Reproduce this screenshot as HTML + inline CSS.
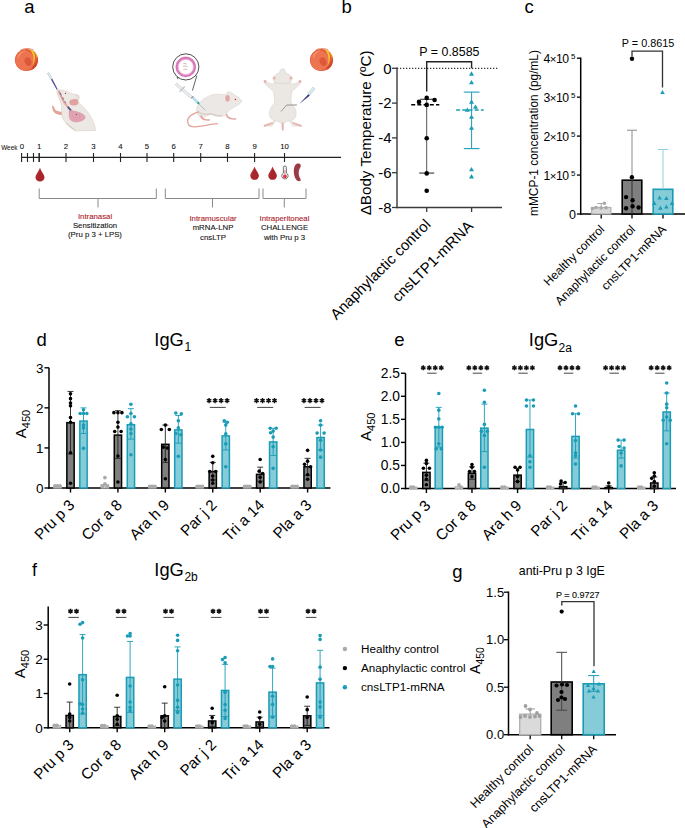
<!DOCTYPE html>
<html><head><meta charset="utf-8"><style>
html,body{margin:0;padding:0;background:#fff;width:685px;height:828px;overflow:hidden}
svg{display:block;font-family:"Liberation Sans", sans-serif}
</style></head><body>
<svg width="685" height="828" viewBox="0 0 685 828">
<rect width="685" height="828" fill="#fff"/>
<text x="24.30" y="13.00" font-size="18.5" text-anchor="start" fill="#000" >a</text>
<text x="341.50" y="12.70" font-size="18.5" text-anchor="start" fill="#000" >b</text>
<text x="524.50" y="12.70" font-size="18.5" text-anchor="start" fill="#000" >c</text>
<text x="36.50" y="346.40" font-size="18.5" text-anchor="start" fill="#000" >d</text>
<text x="394.20" y="346.40" font-size="18.5" text-anchor="start" fill="#000" >e</text>
<text x="32.00" y="575.80" font-size="18" text-anchor="start" fill="#000" >f</text>
<text x="452.30" y="577.70" font-size="18.5" text-anchor="start" fill="#000" >g</text>
<line x1="21.60" y1="157.30" x2="341.00" y2="157.30" stroke="#222" stroke-width="1.2" />
<line x1="21.60" y1="153.00" x2="21.60" y2="162.00" stroke="#222" stroke-width="1.1" />
<line x1="27.50" y1="153.00" x2="27.50" y2="162.00" stroke="#222" stroke-width="1.1" />
<line x1="33.50" y1="153.00" x2="33.50" y2="162.00" stroke="#222" stroke-width="1.1" />
<line x1="39.20" y1="153.00" x2="39.20" y2="162.00" stroke="#222" stroke-width="1.1" />
<line x1="39.20" y1="153.00" x2="39.20" y2="162.00" stroke="#222" stroke-width="1.1" />
<text x="39.20" y="149.30" font-size="7.8" text-anchor="middle" fill="#111" stroke="#111" stroke-width="0.08">1</text>
<line x1="66.00" y1="153.00" x2="66.00" y2="162.00" stroke="#222" stroke-width="1.1" />
<text x="66.00" y="149.30" font-size="7.8" text-anchor="middle" fill="#111" stroke="#111" stroke-width="0.08">2</text>
<line x1="93.50" y1="153.00" x2="93.50" y2="162.00" stroke="#222" stroke-width="1.1" />
<text x="93.50" y="149.30" font-size="7.8" text-anchor="middle" fill="#111" stroke="#111" stroke-width="0.08">3</text>
<line x1="120.50" y1="153.00" x2="120.50" y2="162.00" stroke="#222" stroke-width="1.1" />
<text x="120.50" y="149.30" font-size="7.8" text-anchor="middle" fill="#111" stroke="#111" stroke-width="0.08">4</text>
<line x1="147.00" y1="153.00" x2="147.00" y2="162.00" stroke="#222" stroke-width="1.1" />
<text x="147.00" y="149.30" font-size="7.8" text-anchor="middle" fill="#111" stroke="#111" stroke-width="0.08">5</text>
<line x1="173.70" y1="153.00" x2="173.70" y2="162.00" stroke="#222" stroke-width="1.1" />
<text x="173.70" y="149.30" font-size="7.8" text-anchor="middle" fill="#111" stroke="#111" stroke-width="0.08">6</text>
<line x1="200.70" y1="153.00" x2="200.70" y2="162.00" stroke="#222" stroke-width="1.1" />
<text x="200.70" y="149.30" font-size="7.8" text-anchor="middle" fill="#111" stroke="#111" stroke-width="0.08">7</text>
<line x1="227.50" y1="153.00" x2="227.50" y2="162.00" stroke="#222" stroke-width="1.1" />
<text x="227.50" y="149.30" font-size="7.8" text-anchor="middle" fill="#111" stroke="#111" stroke-width="0.08">8</text>
<line x1="254.60" y1="153.00" x2="254.60" y2="162.00" stroke="#222" stroke-width="1.1" />
<text x="254.60" y="149.30" font-size="7.8" text-anchor="middle" fill="#111" stroke="#111" stroke-width="0.08">9</text>
<line x1="284.50" y1="153.00" x2="284.50" y2="162.00" stroke="#222" stroke-width="1.1" />
<text x="284.50" y="149.30" font-size="7.8" text-anchor="middle" fill="#111" stroke="#111" stroke-width="0.08">10</text>
<text x="21.80" y="149.30" font-size="7.8" text-anchor="middle" fill="#111" stroke="#111" stroke-width="0.08">0</text>
<text x="1.20" y="149.80" font-size="6.4" text-anchor="start" fill="#111" stroke="#111" stroke-width="0.05">Week</text>
<path d="M39.2 188.5V198.5H156.3V188.5M98 198.5V207.5" fill="none" stroke="#8a8a8a" stroke-width="1"/>
<path d="M165.3 188.5V198.5H259V188.5M212.5 198.5V207.5" fill="none" stroke="#8a8a8a" stroke-width="1"/>
<path d="M263 188.5V198.5H306V188.5M284.3 198.5V207.5" fill="none" stroke="#8a8a8a" stroke-width="1"/>
<text x="95.00" y="218.60" font-size="7.8" text-anchor="middle" fill="#ab1b28" stroke="#ab1b28" stroke-width="0.1">Intranasal</text>
<text x="95.00" y="227.90" font-size="7.8" text-anchor="middle" fill="#111" stroke="#111" stroke-width="0.1">Sensitization</text>
<text x="95.00" y="237.20" font-size="7.8" text-anchor="middle" fill="#111" stroke="#111" stroke-width="0.1">(Pru p 3 + LPS)</text>
<text x="213.00" y="221.00" font-size="7.8" text-anchor="middle" fill="#ab1b28" stroke="#ab1b28" stroke-width="0.1">Intramuscular</text>
<text x="213.00" y="230.30" font-size="7.8" text-anchor="middle" fill="#111" stroke="#111" stroke-width="0.1">mRNA-LNP</text>
<text x="213.00" y="239.60" font-size="7.8" text-anchor="middle" fill="#111" stroke="#111" stroke-width="0.1">cnsLTP</text>
<text x="284.50" y="221.00" font-size="7.8" text-anchor="middle" fill="#ab1b28" stroke="#ab1b28" stroke-width="0.1">Intraperitoneal</text>
<text x="284.50" y="230.30" font-size="7.8" text-anchor="middle" fill="#111" stroke="#111" stroke-width="0.1">CHALLENGE</text>
<text x="284.50" y="239.60" font-size="7.8" text-anchor="middle" fill="#111" stroke="#111" stroke-width="0.1">with Pru p 3</text>
<g transform="translate(26.5 60)">
<ellipse cx="0" cy="0" rx="11.6" ry="11.1" fill="#e35a36"/>
<ellipse cx="-1.8" cy="0.6" rx="9.4" ry="10" fill="#ec7450"/>
<path d="M-8.5 -3 C-8 -7.5 -4 -10 0 -9.5 C-4.5 -8.5 -7 -5.5 -7.8 -1 Z" fill="#f29a78" opacity="0.9"/>
<path d="M-1 -2 C2 -4 5 -1 5 3 C5 6 2 7 0 5 C-2 3 -3 0 -1 -2 Z" fill="#dc5432" opacity="0.85"/>
<path d="M1.5 -11 C4 -10.5 6.2 -7 6.8 -3 C7.3 0.5 6.8 4 5.5 6.5 C7.6 4 8.8 0 8.5 -4 C8.2 -8 6 -10.5 1.5 -11 Z" fill="#f7c62e"/>
<path d="M7.5 -9.2 C9.8 -7 10.8 -4 10.8 -0.5 C9.8 -3 9 -6.5 7.5 -9.2Z" fill="#f3ad2c"/>
<path d="M5.5 7.5 C9 5 11 1 11.4 -3 C11.9 2.5 10 7.5 6 9.8 Z" fill="#c8432a" opacity="0.85"/>
<path d="M-6 -10 C-2 -12 3 -12 7 -10" fill="none" stroke="#d8502c" stroke-width="0.6"/>
</g>
<g transform="translate(321.5 60)">
<ellipse cx="0" cy="0" rx="11.6" ry="11.1" fill="#e35a36"/>
<ellipse cx="-1.8" cy="0.6" rx="9.4" ry="10" fill="#ec7450"/>
<path d="M-8.5 -3 C-8 -7.5 -4 -10 0 -9.5 C-4.5 -8.5 -7 -5.5 -7.8 -1 Z" fill="#f29a78" opacity="0.9"/>
<path d="M-1 -2 C2 -4 5 -1 5 3 C5 6 2 7 0 5 C-2 3 -3 0 -1 -2 Z" fill="#dc5432" opacity="0.85"/>
<path d="M1.5 -11 C4 -10.5 6.2 -7 6.8 -3 C7.3 0.5 6.8 4 5.5 6.5 C7.6 4 8.8 0 8.5 -4 C8.2 -8 6 -10.5 1.5 -11 Z" fill="#f7c62e"/>
<path d="M7.5 -9.2 C9.8 -7 10.8 -4 10.8 -0.5 C9.8 -3 9 -6.5 7.5 -9.2Z" fill="#f3ad2c"/>
<path d="M5.5 7.5 C9 5 11 1 11.4 -3 C11.9 2.5 10 7.5 6 9.8 Z" fill="#c8432a" opacity="0.85"/>
<path d="M-6 -10 C-2 -12 3 -12 7 -10" fill="none" stroke="#d8502c" stroke-width="0.6"/>
</g>
<g>
<path d="M47.3 73.4 L48.9 72.6 L52.3 79 L51 79.7 Z" fill="#e3eff3" stroke="#9fb9c2" stroke-width="0.5"/>
<path d="M51 79.5 L52.3 78.8 L57.8 89.4 L56.9 89.9 Z" fill="#4a4d9a"/>
<path d="M57 89.8 C61 89.5 66 90.8 70.5 93 C73 94 75 94.5 76.5 94.6 C78.5 94.8 79.2 97 78.2 99.5 C78.3 101 78.8 102 79.2 103 C83.5 107 87.5 111.5 90 115.5 C93 120 94.8 125 95.6 130.5 L75.5 130.8 C73 128.5 70 127 66.5 123.5 C63.5 120.5 61.8 117.5 61.6 114 C61.2 111.5 61.3 109 61.9 106 C61 103 59.5 100 58.3 96.5 C57.6 94.5 56.8 92 57 89.8 Z" fill="#ece9e5" stroke="#d3cabf" stroke-width="0.55"/>
<path d="M66 123 C69 126 72.5 128.5 75.5 130.8" fill="none" stroke="#d9d0c4" stroke-width="1.2"/>
<path d="M75.5 95 C77.5 94.3 79.5 95.5 79.3 97.8 C79 99.5 77.5 100 76.2 99.3" fill="#e6e1dc" stroke="#cfc6bc" stroke-width="0.5"/>
<path d="M69.3 101.5 C70 99.2 73.5 98.5 76.5 99.2 C78.6 100 78.8 103 77.5 104.8 C75.5 106 71.5 105.8 70 104.5 C69.3 103.5 69.1 102.5 69.3 101.5 Z" fill="#e2a3a0"/>
<path d="M58.5 90.8 C60.5 95 62.5 99.5 65 103.5 C67 106.5 69.5 109 72.2 111.5" fill="none" stroke="#e59f95" stroke-width="2"/>
<path d="M63 102 C66 104.5 69 107.5 71.5 110.5" fill="none" stroke="#eab1a8" stroke-width="1.2"/>
<path d="M60 92.5 L61.3 95.2 M62.6 97.5 L63.6 99.5 M64.8 101.4 L65.8 103.2" stroke="#5a5fa8" stroke-width="0.9"/>
<path d="M67.8 106.8 L70.8 110.5" stroke="#3e4c98" stroke-width="1.6"/>
<path d="M69.2 111 C72 110.4 76.5 111.3 80.5 113 C83.5 114.3 85.5 116 85.2 117.8 C84.5 120 81 121.8 76.5 122 C73 122.1 70.5 120.8 69.7 118.5 C69 116 68.8 113 69.2 111 Z" fill="#e2a2b2" stroke="#d08a9c" stroke-width="0.4"/>
<path d="M72 112.5 L74 119 M75.5 112 L77 120 M79 113 L80 120" stroke="#d593a5" stroke-width="0.4"/>
<circle cx="76.5" cy="114.5" r="0.6" fill="#4a4d9a"/>
<path d="M52.3 105 C53.8 105.7 54.5 107.5 55 109.5 C56.5 111 58.5 111.2 61.5 112 L62 115 C59.5 115.3 56 114.5 54 112.3 C52.5 110.5 51.8 107.5 52.3 105 Z" fill="#e4a49a"/>
<circle cx="65.5" cy="93.4" r="0.65" fill="#a83232"/>
</g>
<g>
<circle cx="185.8" cy="66.9" r="13.1" fill="#fff" stroke="#3a3a3a" stroke-width="0.9"/>
<circle cx="185.8" cy="66.9" r="8.9" fill="none" stroke="#da7cbc" stroke-width="2.3"/>
<circle cx="185.8" cy="66.9" r="9.9" fill="none" stroke="#c23c94" stroke-width="0.6" stroke-dasharray="0.8 0.6"/>
<circle cx="185.8" cy="66.9" r="7.5" fill="none" stroke="#e6a7cf" stroke-width="0.6"/>
<path d="M183.2 63.8 q1.5 -0.8 3.5 0.3 M183 66.5 q2 -1 4.5 0.2 M183.3 69.5 q2 -0.9 4 0" fill="none" stroke="#b87b74" stroke-width="0.55"/>
<path d="M177 77 L178 79.2" stroke="#3a3a3a" stroke-width="0.8"/>
<path d="M196.8 75.7 L192.4 90.6" stroke="#3a3a3a" stroke-width="0.8"/>
<path d="M196.4 108.6 C197 105.5 199.5 102.5 203 99.5 C207 96.5 211.5 94.5 216 94.2 C219 94 222 94.5 225 94.8 C226.5 93 227.5 91.8 228.5 91.7 C230 91.5 231.2 92.2 231.6 93 C232.5 93.5 233.5 94 234.2 94.7 C237 96 240 98.5 242 100.8 C241.5 102.5 239.5 104 237.6 105.1 C234.5 107 231.5 108.5 228.8 110.4 C228 112 227 113.5 226 114.8 C224 116 221.5 116.6 219.5 116.5 C216 116 213.5 115 211.3 113.9 C208 115 205 116.5 202.5 118.3 C200 117.5 198 115.5 197.3 113 C196.6 111.5 196.3 110 196.4 108.6 Z" fill="#ebe8e5" stroke="#d6cec5" stroke-width="0.5"/>
<path d="M197.5 111 C200 114 205 114.8 211.3 113.9 C215 115.5 219 116 222 115.5" fill="none" stroke="#d9d2ca" stroke-width="1.6"/>
<path d="M225.3 98 C225.3 95.5 227 94.5 228.5 95.2 C230 96 230 99.5 229 101.2 C228 102.2 226 101.5 225.5 100" fill="#e2a6a6"/>
<circle cx="235.4" cy="99.5" r="0.7" fill="#b52020"/>
<path d="M198.1 112.2 C195 113.2 191.5 114.5 189.3 117 C187.3 119.5 187.3 123 189 125.3 C191 127.5 196 127 201 126.2 C206 125.4 212 124 217.4 123.6" fill="none" stroke="#e3a49d" stroke-width="1.35" stroke-linecap="round"/>
<path d="M201 116 C201.5 118 203 119.5 205.5 119.8 L209.3 120" fill="none" stroke="#e3a49d" stroke-width="1.6" stroke-linecap="round"/>
<path d="M226.5 114.5 C227 116.5 229 118.5 232 118.8 L235.5 119" fill="none" stroke="#e3a49d" stroke-width="1.5" stroke-linecap="round"/>
<path d="M175.3 84.8 L176.8 83.2 L192.8 97 L191.2 98.7 Z" fill="#f2f3f4" stroke="#a9b0b4" stroke-width="0.55"/>
<path d="M179.5 91.8 L184.8 86.5" stroke="#b9c0c4" stroke-width="1.1"/>
<path d="M191.6 97.9 L193.2 96.3" stroke="#333" stroke-width="0.9"/>
<path d="M192.1 98.4 L193.7 96.8 L198.2 101.6 L196.6 103.2 Z" fill="#bfe3f2" stroke="#8fbfd3" stroke-width="0.4"/>
<path d="M196.8 103 L198.3 101.5 L199.8 103.3 L198.5 104.6 Z" fill="#2e9e8a"/>
<path d="M199 104 L205.6 110.4" stroke="#6d8a90" stroke-width="0.45"/>
</g>
<g>
<path d="M282.6 68.6 C284.3 68.6 285.3 70.5 285.6 72.8 C289 73.8 291.8 76 291.8 79.5 C291 82 290.5 83 289.5 83.5 C293 84.5 296.5 83.5 299 81.5 C300.5 82.5 300.5 83.5 299.5 84.5 C297 87 294.5 89 292 91 C291 96 290.5 101 291.5 104 C295 107 296.5 111 296 115.5 C295 118.5 293 120 291 120.5 L293.5 123.5 L300.5 124.5 L301 126 L293 126 L289.5 121 C287 121 285 122 283.5 124 L283.5 130 L282 130 L281.5 124 C280 122 278 121 275.5 121 L272 126 L264.5 126 L265 124.5 L272 123.5 L274.5 120.5 C272 120 270.5 118.5 269.5 115.5 C269 111 270.5 107 274 104 C275 101 274.5 96 273.5 91 C271 89 268 87 265.5 84.5 C264.5 83.5 264.5 82.5 266 81.5 C268.5 83.5 272 84.5 275.5 83.5 C274.5 83 274 82 273.5 79.5 C273.4 76 276.2 73.8 279.6 72.8 C279.9 70.5 280.9 68.6 282.6 68.6 Z" fill="#ebe8e4" stroke="#d9d1ca" stroke-width="0.6"/>
<circle cx="274.2" cy="78" r="1.6" fill="#e7b5b5"/>
<circle cx="291" cy="78" r="1.6" fill="#e7b5b5"/>
<circle cx="265" cy="81.5" r="1.4" fill="#e9aeae"/>
<circle cx="300" cy="81.5" r="1.4" fill="#e9aeae"/>
<path d="M274.5 82 C277 84 288 84 290.5 82" fill="none" stroke="#ddd4cc" stroke-width="0.8"/>
<path d="M264.5 126 L272 123 M301 126 L293.5 123" stroke="#eab0aa" stroke-width="1.8" stroke-linecap="round"/>
<path d="M282.7 123 L282.7 129.8" stroke="#eab0aa" stroke-width="1.4" stroke-linecap="round"/>
<path d="M281 111.5 L286.7 105 L296.9 105" fill="none" stroke="#555" stroke-width="0.55"/>
<path d="M286.7 105 L296.9 105" stroke="#bbb" stroke-width="0.9"/>
<path d="M299.3 104 L308.5 94 L310 95.5 Z" fill="#3c3c90"/>
<path d="M308 93.6 L313 87 L315 89 L309.8 95.3 Z" fill="#d8ecf0" stroke="#a6c6cf" stroke-width="0.5"/>
</g>
<path d="M40 167.7 C41.2 171.81 44.5 174.55 44.5 177.29 A4.5 4.2749999999999995 0 0 1 35.5 177.29 C35.5 174.55 38.8 171.81 40 167.7 Z" fill="#a8252d"/>
<path d="M36.7 177.016 C36.7 174.55 39 171.81 40 168.7" fill="none" stroke="#b94048" stroke-width="1" opacity="0.6"/>
<path d="M254.6 166.6 C255.79999999999998 170.53 258.9 173.14999999999998 258.9 175.76999999999998 A4.3 4.085 0 0 1 250.29999999999998 175.76999999999998 C250.29999999999998 173.14999999999998 253.4 170.53 254.6 166.6 Z" fill="#a8252d"/>
<path d="M251.49999999999997 175.50799999999998 C251.49999999999997 173.14999999999998 253.6 170.53 254.6 167.6" fill="none" stroke="#b94048" stroke-width="1" opacity="0.6"/>
<path d="M272.6 166.6 C273.8 170.53 276.90000000000003 173.14999999999998 276.90000000000003 175.76999999999998 A4.3 4.085 0 0 1 268.3 175.76999999999998 C268.3 173.14999999999998 271.40000000000003 170.53 272.6 166.6 Z" fill="#a8252d"/>
<path d="M269.5 175.50799999999998 C269.5 173.14999999999998 271.6 170.53 272.6 167.6" fill="none" stroke="#b94048" stroke-width="1" opacity="0.6"/>
<path d="M283.4 173 V167.5 a1.5 1.5 0 0 1 3 0 V173 a3.2 3.2 0 1 1 -3 0 Z" fill="#f2f2f2" stroke="#555" stroke-width="0.8"/>
<circle cx="284.9" cy="176.4" r="1.9" fill="#e03a4a"/>
<path d="M284.9 170 V175" stroke="#e88090" stroke-width="1"/>
<path d="M297.5 163.6 C301 163 301.5 166 300 168 C298 171 298.5 176 300.5 179 C301.5 181.5 298.5 182 296.5 180 C293.5 176.5 293 169 295 165.5 C295.6 164.5 296.5 163.8 297.5 163.6 Z" fill="#9a3b45"/>
<line x1="397.00" y1="68.30" x2="499.00" y2="68.30" stroke="#000" stroke-width="1" stroke-dasharray="1.3 1.7"/>
<line x1="397.00" y1="67.60" x2="397.00" y2="208.20" stroke="#3a3a3a" stroke-width="1.4" />
<line x1="396.30" y1="207.50" x2="502.00" y2="207.50" stroke="#3a3a3a" stroke-width="1.4" />
<line x1="392.00" y1="68.30" x2="397.00" y2="68.30" stroke="#3a3a3a" stroke-width="1.3" />
<text x="391.50" y="73.60" font-size="15" text-anchor="end" fill="#000" >0</text>
<line x1="392.00" y1="103.10" x2="397.00" y2="103.10" stroke="#3a3a3a" stroke-width="1.3" />
<text x="391.50" y="108.40" font-size="15" text-anchor="end" fill="#000" >-2</text>
<line x1="392.00" y1="137.90" x2="397.00" y2="137.90" stroke="#3a3a3a" stroke-width="1.3" />
<text x="391.50" y="143.20" font-size="15" text-anchor="end" fill="#000" >-4</text>
<line x1="392.00" y1="172.70" x2="397.00" y2="172.70" stroke="#3a3a3a" stroke-width="1.3" />
<text x="391.50" y="178.00" font-size="15" text-anchor="end" fill="#000" >-6</text>
<line x1="392.00" y1="207.50" x2="397.00" y2="207.50" stroke="#3a3a3a" stroke-width="1.3" />
<text x="391.50" y="212.80" font-size="15" text-anchor="end" fill="#000" >-8</text>
<line x1="426.70" y1="207.50" x2="426.70" y2="212.00" stroke="#3a3a3a" stroke-width="1.3" />
<line x1="471.60" y1="207.50" x2="471.60" y2="212.00" stroke="#3a3a3a" stroke-width="1.3" />
<text transform="translate(371.3 132.9) rotate(-90)" font-size="15.2" text-anchor="middle">ΔBody Temperature (ºC)</text>
<text transform="translate(431.5 225.5) rotate(-45)" font-size="15" text-anchor="end">Anaphylactic control</text>
<text transform="translate(474 227) rotate(-45)" font-size="15" text-anchor="end">cnsLTP1-mRNA</text>
<line x1="426.70" y1="99.27" x2="426.70" y2="173.05" stroke="#555" stroke-width="1" />
<line x1="420.20" y1="99.27" x2="433.20" y2="99.27" stroke="#222" stroke-width="1" />
<line x1="419.20" y1="173.05" x2="434.20" y2="173.05" stroke="#222" stroke-width="1" />
<line x1="411.20" y1="104.84" x2="439.30" y2="104.84" stroke="#000" stroke-width="1.5" stroke-dasharray="4 2.2"/>
<circle cx="426.70" cy="97.90" r="2.3" fill="#000"/>
<circle cx="419.00" cy="101.90" r="2.3" fill="#000"/>
<circle cx="434.60" cy="100.00" r="2.3" fill="#000"/>
<circle cx="426.70" cy="104.90" r="2.3" fill="#000"/>
<circle cx="426.70" cy="138.30" r="2.3" fill="#000"/>
<circle cx="426.70" cy="173.40" r="2.3" fill="#000"/>
<circle cx="426.70" cy="190.70" r="2.3" fill="#000"/>
<line x1="471.60" y1="92.10" x2="471.60" y2="148.60" stroke="#1b9cb6" stroke-width="1" />
<line x1="463.80" y1="92.10" x2="479.50" y2="92.10" stroke="#1b9cb6" stroke-width="1.1" />
<line x1="463.80" y1="148.60" x2="479.50" y2="148.60" stroke="#1b9cb6" stroke-width="1.1" />
<line x1="456.10" y1="110.10" x2="483.70" y2="110.10" stroke="#1b9cb6" stroke-width="1.5" stroke-dasharray="4 2.2"/>
<path d="M471.50 71.29L474.00 75.64L469.00 75.64Z" fill="#1b9cb6"/>
<path d="M471.50 79.89L474.00 84.24L469.00 84.24Z" fill="#1b9cb6"/>
<path d="M471.50 99.29L474.00 103.64L469.00 103.64Z" fill="#1b9cb6"/>
<path d="M475.50 104.39L478.00 108.74L473.00 108.74Z" fill="#1b9cb6"/>
<path d="M467.30 107.49L469.80 111.84L464.80 111.84Z" fill="#1b9cb6"/>
<path d="M471.50 114.49L474.00 118.84L469.00 118.84Z" fill="#1b9cb6"/>
<path d="M471.50 125.49L474.00 129.84L469.00 129.84Z" fill="#1b9cb6"/>
<path d="M471.50 166.99L474.00 171.34L469.00 171.34Z" fill="#1b9cb6"/>
<path d="M471.50 174.09L474.00 178.44L469.00 178.44Z" fill="#1b9cb6"/>
<path d="M426.7 91.4V61.7H471.6V68.3" fill="none" stroke="#222" stroke-width="1.4"/>
<text x="449.40" y="56.20" font-size="12.4" text-anchor="middle" fill="#000" >P = 0.8585</text>
<line x1="580.70" y1="57.50" x2="580.70" y2="214.75" stroke="#000" stroke-width="1.5" />
<line x1="579.95" y1="214.00" x2="685.00" y2="214.00" stroke="#000" stroke-width="1.5" />
<line x1="576.90" y1="214.00" x2="580.70" y2="214.00" stroke="#000" stroke-width="1.3" />
<text x="576.00" y="218.50" font-size="12.5" text-anchor="end" fill="#000" >0</text>
<line x1="576.90" y1="175.05" x2="580.70" y2="175.05" stroke="#000" stroke-width="1.3" />
<text x="568.6" y="179.65" font-size="12.2" text-anchor="end" letter-spacing="-0.5">1<tspan font-size="11.5">×</tspan>10</text>
<text x="571.10" y="175.95" font-size="7.9" text-anchor="start" fill="#000" >5</text>
<line x1="576.90" y1="136.10" x2="580.70" y2="136.10" stroke="#000" stroke-width="1.3" />
<text x="568.6" y="140.70" font-size="12.2" text-anchor="end" letter-spacing="-0.5">2<tspan font-size="11.5">×</tspan>10</text>
<text x="571.10" y="137.00" font-size="7.9" text-anchor="start" fill="#000" >5</text>
<line x1="576.90" y1="97.15" x2="580.70" y2="97.15" stroke="#000" stroke-width="1.3" />
<text x="568.6" y="101.75" font-size="12.2" text-anchor="end" letter-spacing="-0.5">3<tspan font-size="11.5">×</tspan>10</text>
<text x="571.10" y="98.05" font-size="7.9" text-anchor="start" fill="#000" >5</text>
<line x1="576.90" y1="58.20" x2="580.70" y2="58.20" stroke="#000" stroke-width="1.3" />
<text x="568.6" y="62.80" font-size="12.2" text-anchor="end" letter-spacing="-0.5">4<tspan font-size="11.5">×</tspan>10</text>
<text x="571.10" y="59.10" font-size="7.9" text-anchor="start" fill="#000" >5</text>
<line x1="601.20" y1="214.00" x2="601.20" y2="218.50" stroke="#000" stroke-width="1.3" />
<line x1="632.00" y1="214.00" x2="632.00" y2="218.50" stroke="#000" stroke-width="1.3" />
<line x1="663.00" y1="214.00" x2="663.00" y2="218.50" stroke="#000" stroke-width="1.3" />
<rect x="591.55" y="207.50" width="19.30" height="6.50" fill="#d8d8d8" stroke="#b4b4b4" stroke-width="1.3"/>
<line x1="601.20" y1="203.50" x2="601.20" y2="208.50" stroke="#aaa" stroke-width="1" />
<line x1="597.20" y1="203.50" x2="605.20" y2="203.50" stroke="#aaa" stroke-width="1" />
<circle cx="604.40" cy="203.30" r="1.8" fill="#a8a8a8"/>
<circle cx="596.00" cy="207.50" r="1.8" fill="#a8a8a8"/>
<circle cx="601.00" cy="208.00" r="1.8" fill="#a8a8a8"/>
<circle cx="606.00" cy="207.80" r="1.8" fill="#a8a8a8"/>
<circle cx="592.50" cy="208.50" r="1.8" fill="#a8a8a8"/>
<rect x="622.20" y="180.20" width="19.60" height="33.80" fill="#7f7f7f" stroke="#000" stroke-width="1.6"/>
<line x1="632.00" y1="130.20" x2="632.00" y2="180.20" stroke="#8a8a8a" stroke-width="1" />
<line x1="632.00" y1="180.20" x2="632.00" y2="214.00" stroke="#333" stroke-width="1" />
<line x1="627.00" y1="130.20" x2="637.00" y2="130.20" stroke="#8a8a8a" stroke-width="1" />
<circle cx="632.00" cy="58.70" r="2.2" fill="#000"/>
<circle cx="631.90" cy="177.30" r="2.2" fill="#000"/>
<circle cx="626.10" cy="197.10" r="2.2" fill="#000"/>
<circle cx="632.60" cy="200.20" r="2.2" fill="#000"/>
<circle cx="626.10" cy="208.20" r="2.2" fill="#000"/>
<circle cx="632.60" cy="206.20" r="2.2" fill="#000"/>
<circle cx="638.60" cy="207.50" r="2.2" fill="#000"/>
<rect x="653.20" y="189.30" width="19.60" height="24.70" fill="#86ccd8" stroke="#1b9cb6" stroke-width="1.6"/>
<line x1="663.00" y1="149.50" x2="663.00" y2="189.30" stroke="#8fd0dc" stroke-width="1" />
<line x1="658.00" y1="149.50" x2="668.00" y2="149.50" stroke="#8fd0dc" stroke-width="1" />
<path d="M662.50 89.90L664.80 93.90L660.20 93.90Z" fill="#1b9cb6"/>
<path d="M659.60 195.40L661.90 199.40L657.30 199.40Z" fill="#1b9cb6"/>
<path d="M666.40 196.10L668.70 200.10L664.10 200.10Z" fill="#1b9cb6"/>
<path d="M654.30 200.90L656.60 204.90L652.00 204.90Z" fill="#1b9cb6"/>
<path d="M672.00 200.90L674.30 204.90L669.70 204.90Z" fill="#1b9cb6"/>
<path d="M660.40 205.80L662.70 209.80L658.10 209.80Z" fill="#1b9cb6"/>
<path d="M666.40 204.60L668.70 208.60L664.10 208.60Z" fill="#1b9cb6"/>
<path d="M632 56.5V51.2H662.5V87.5" fill="none" stroke="#333" stroke-width="1.3"/>
<text x="648.00" y="47.30" font-size="10.8" text-anchor="middle" fill="#000" >P = 0.8615</text>
<text transform="translate(537.8 133) rotate(-90)" font-size="11.9" text-anchor="middle">mMCP-1 concentration (pg/mL)</text>
<text transform="translate(605.20 230.00) rotate(-45)" font-size="12" text-anchor="end">Healthy control</text>
<text transform="translate(636.00 230.00) rotate(-45)" font-size="12" text-anchor="end">Anaphylactic control</text>
<text transform="translate(667.00 230.00) rotate(-45)" font-size="12" text-anchor="end">cnsLTP1-mRNA</text>
<line x1="49.00" y1="367.79" x2="49.00" y2="488.75" stroke="#000" stroke-width="1.5" />
<line x1="48.25" y1="488.00" x2="330.50" y2="488.00" stroke="#000" stroke-width="1.5" />
<line x1="44.50" y1="488.00" x2="49.00" y2="488.00" stroke="#000" stroke-width="1.4" />
<text x="43.50" y="492.86" font-size="13.5" text-anchor="end" fill="#000" >0</text>
<line x1="44.50" y1="447.93" x2="49.00" y2="447.93" stroke="#000" stroke-width="1.4" />
<text x="43.50" y="452.79" font-size="13.5" text-anchor="end" fill="#000" >1</text>
<line x1="44.50" y1="407.86" x2="49.00" y2="407.86" stroke="#000" stroke-width="1.4" />
<text x="43.50" y="412.72" font-size="13.5" text-anchor="end" fill="#000" >2</text>
<line x1="44.50" y1="367.79" x2="49.00" y2="367.79" stroke="#000" stroke-width="1.4" />
<text x="43.50" y="372.65" font-size="13.5" text-anchor="end" fill="#000" >3</text>
<line x1="70.50" y1="488.00" x2="70.50" y2="492.50" stroke="#000" stroke-width="1.4" />
<line x1="117.92" y1="488.00" x2="117.92" y2="492.50" stroke="#000" stroke-width="1.4" />
<line x1="165.34" y1="488.00" x2="165.34" y2="492.50" stroke="#000" stroke-width="1.4" />
<line x1="212.76" y1="488.00" x2="212.76" y2="492.50" stroke="#000" stroke-width="1.4" />
<line x1="260.18" y1="488.00" x2="260.18" y2="492.50" stroke="#000" stroke-width="1.4" />
<line x1="307.60" y1="488.00" x2="307.60" y2="492.50" stroke="#000" stroke-width="1.4" />
<rect x="53.85" y="486.00" width="7.30" height="2.00" fill="#d8d8d8" stroke="#b4b4b4" stroke-width="1.2"/>
<circle cx="57.50" cy="486.00" r="1.9" fill="#aaaaaa"/>
<circle cx="55.00" cy="486.00" r="1.9" fill="#aaaaaa"/>
<circle cx="60.00" cy="486.00" r="1.9" fill="#aaaaaa"/>
<rect x="66.85" y="422.69" width="7.30" height="65.31" fill="#7f7f7f" stroke="#000" stroke-width="1.5"/>
<line x1="70.50" y1="391.43" x2="70.50" y2="453.94" stroke="#222" stroke-width="0.9" />
<line x1="67.50" y1="391.43" x2="73.50" y2="391.43" stroke="#222" stroke-width="0.9" />
<line x1="67.50" y1="453.94" x2="73.50" y2="453.94" stroke="#222" stroke-width="0.9" />
<circle cx="70.50" cy="393.84" r="1.8" fill="#000"/>
<circle cx="70.50" cy="398.64" r="1.8" fill="#000"/>
<circle cx="70.50" cy="403.05" r="1.8" fill="#000"/>
<circle cx="70.50" cy="405.86" r="1.8" fill="#000"/>
<circle cx="70.50" cy="417.48" r="1.8" fill="#000"/>
<circle cx="70.50" cy="422.29" r="1.8" fill="#000"/>
<circle cx="70.50" cy="452.74" r="1.8" fill="#000"/>
<circle cx="70.50" cy="483.19" r="1.8" fill="#000"/>
<rect x="79.85" y="421.08" width="7.30" height="66.92" fill="#86ccd8" stroke="#1b9cb6" stroke-width="1.5"/>
<line x1="83.50" y1="407.86" x2="83.50" y2="433.50" stroke="#1b9cb6" stroke-width="0.9" />
<line x1="80.50" y1="407.86" x2="86.50" y2="407.86" stroke="#1b9cb6" stroke-width="0.9" />
<line x1="80.50" y1="433.50" x2="86.50" y2="433.50" stroke="#1b9cb6" stroke-width="0.9" />
<circle cx="83.50" cy="409.86" r="1.8" fill="#1b9cb6"/>
<circle cx="80.20" cy="413.47" r="1.8" fill="#1b9cb6"/>
<circle cx="83.50" cy="413.47" r="1.8" fill="#1b9cb6"/>
<circle cx="86.80" cy="413.47" r="1.8" fill="#1b9cb6"/>
<circle cx="83.50" cy="425.09" r="1.8" fill="#1b9cb6"/>
<circle cx="83.50" cy="427.89" r="1.8" fill="#1b9cb6"/>
<circle cx="83.50" cy="448.33" r="1.8" fill="#1b9cb6"/>
<rect x="101.27" y="484.79" width="7.30" height="3.21" fill="#d8d8d8" stroke="#b4b4b4" stroke-width="1.2"/>
<circle cx="104.92" cy="477.58" r="1.9" fill="#aaaaaa"/>
<circle cx="104.92" cy="483.99" r="1.9" fill="#aaaaaa"/>
<circle cx="102.42" cy="486.00" r="1.9" fill="#aaaaaa"/>
<circle cx="102.42" cy="486.40" r="1.9" fill="#aaaaaa"/>
<circle cx="107.42" cy="486.40" r="1.9" fill="#aaaaaa"/>
<rect x="114.27" y="435.11" width="7.30" height="52.89" fill="#7f7f7f" stroke="#000" stroke-width="1.5"/>
<line x1="117.92" y1="410.66" x2="117.92" y2="458.35" stroke="#222" stroke-width="0.9" />
<line x1="114.92" y1="410.66" x2="120.92" y2="410.66" stroke="#222" stroke-width="0.9" />
<line x1="114.92" y1="458.35" x2="120.92" y2="458.35" stroke="#222" stroke-width="0.9" />
<circle cx="113.92" cy="412.67" r="1.8" fill="#000"/>
<circle cx="117.92" cy="412.67" r="1.8" fill="#000"/>
<circle cx="121.92" cy="412.67" r="1.8" fill="#000"/>
<circle cx="117.92" cy="422.29" r="1.8" fill="#000"/>
<circle cx="117.92" cy="427.09" r="1.8" fill="#000"/>
<circle cx="114.72" cy="431.50" r="1.8" fill="#000"/>
<circle cx="121.12" cy="431.50" r="1.8" fill="#000"/>
<circle cx="117.92" cy="455.94" r="1.8" fill="#000"/>
<circle cx="117.92" cy="481.99" r="1.8" fill="#000"/>
<rect x="127.27" y="424.69" width="7.30" height="63.31" fill="#86ccd8" stroke="#1b9cb6" stroke-width="1.5"/>
<line x1="130.92" y1="408.66" x2="130.92" y2="439.11" stroke="#1b9cb6" stroke-width="0.9" />
<line x1="127.92" y1="408.66" x2="133.92" y2="408.66" stroke="#1b9cb6" stroke-width="0.9" />
<line x1="127.92" y1="439.11" x2="133.92" y2="439.11" stroke="#1b9cb6" stroke-width="0.9" />
<circle cx="130.92" cy="404.25" r="1.8" fill="#1b9cb6"/>
<circle cx="130.92" cy="413.47" r="1.8" fill="#1b9cb6"/>
<circle cx="127.42" cy="416.68" r="1.8" fill="#1b9cb6"/>
<circle cx="134.42" cy="416.68" r="1.8" fill="#1b9cb6"/>
<circle cx="130.92" cy="423.89" r="1.8" fill="#1b9cb6"/>
<circle cx="130.92" cy="429.10" r="1.8" fill="#1b9cb6"/>
<circle cx="130.92" cy="433.50" r="1.8" fill="#1b9cb6"/>
<circle cx="130.92" cy="454.74" r="1.8" fill="#1b9cb6"/>
<rect x="148.69" y="486.40" width="7.30" height="1.60" fill="#d8d8d8" stroke="#b4b4b4" stroke-width="1.2"/>
<circle cx="152.34" cy="486.40" r="1.9" fill="#aaaaaa"/>
<circle cx="149.84" cy="486.40" r="1.9" fill="#aaaaaa"/>
<circle cx="154.84" cy="486.40" r="1.9" fill="#aaaaaa"/>
<rect x="161.69" y="444.32" width="7.30" height="43.68" fill="#7f7f7f" stroke="#000" stroke-width="1.5"/>
<line x1="165.34" y1="425.09" x2="165.34" y2="462.36" stroke="#222" stroke-width="0.9" />
<line x1="162.34" y1="425.09" x2="168.34" y2="425.09" stroke="#222" stroke-width="0.9" />
<line x1="162.34" y1="462.36" x2="168.34" y2="462.36" stroke="#222" stroke-width="0.9" />
<circle cx="165.34" cy="425.09" r="1.8" fill="#000"/>
<circle cx="161.34" cy="429.50" r="1.8" fill="#000"/>
<circle cx="169.34" cy="429.50" r="1.8" fill="#000"/>
<circle cx="163.34" cy="447.13" r="1.8" fill="#000"/>
<circle cx="167.34" cy="447.93" r="1.8" fill="#000"/>
<circle cx="165.34" cy="459.55" r="1.8" fill="#000"/>
<circle cx="165.34" cy="478.78" r="1.8" fill="#000"/>
<rect x="174.69" y="429.90" width="7.30" height="58.10" fill="#86ccd8" stroke="#1b9cb6" stroke-width="1.5"/>
<line x1="178.34" y1="415.47" x2="178.34" y2="443.12" stroke="#1b9cb6" stroke-width="0.9" />
<line x1="175.34" y1="415.47" x2="181.34" y2="415.47" stroke="#1b9cb6" stroke-width="0.9" />
<line x1="175.34" y1="443.12" x2="181.34" y2="443.12" stroke="#1b9cb6" stroke-width="0.9" />
<circle cx="175.84" cy="413.07" r="1.8" fill="#1b9cb6"/>
<circle cx="181.34" cy="413.87" r="1.8" fill="#1b9cb6"/>
<circle cx="178.34" cy="420.68" r="1.8" fill="#1b9cb6"/>
<circle cx="178.34" cy="427.89" r="1.8" fill="#1b9cb6"/>
<circle cx="175.84" cy="433.50" r="1.8" fill="#1b9cb6"/>
<circle cx="180.84" cy="434.71" r="1.8" fill="#1b9cb6"/>
<circle cx="178.34" cy="456.34" r="1.8" fill="#1b9cb6"/>
<rect x="196.11" y="486.40" width="7.30" height="1.60" fill="#d8d8d8" stroke="#b4b4b4" stroke-width="1.2"/>
<circle cx="199.76" cy="486.40" r="1.9" fill="#aaaaaa"/>
<circle cx="197.26" cy="486.40" r="1.9" fill="#aaaaaa"/>
<circle cx="202.26" cy="486.40" r="1.9" fill="#aaaaaa"/>
<rect x="209.11" y="471.57" width="7.30" height="16.43" fill="#7f7f7f" stroke="#000" stroke-width="1.5"/>
<line x1="212.76" y1="462.36" x2="212.76" y2="479.99" stroke="#222" stroke-width="0.9" />
<line x1="209.76" y1="462.36" x2="215.76" y2="462.36" stroke="#222" stroke-width="0.9" />
<line x1="209.76" y1="479.99" x2="215.76" y2="479.99" stroke="#222" stroke-width="0.9" />
<circle cx="212.76" cy="456.34" r="1.8" fill="#000"/>
<circle cx="212.76" cy="462.76" r="1.8" fill="#000"/>
<circle cx="209.76" cy="471.57" r="1.8" fill="#000"/>
<circle cx="215.76" cy="471.57" r="1.8" fill="#000"/>
<circle cx="212.76" cy="475.98" r="1.8" fill="#000"/>
<circle cx="212.76" cy="479.99" r="1.8" fill="#000"/>
<circle cx="212.76" cy="483.19" r="1.8" fill="#000"/>
<rect x="222.11" y="435.91" width="7.30" height="52.09" fill="#86ccd8" stroke="#1b9cb6" stroke-width="1.5"/>
<line x1="225.76" y1="422.29" x2="225.76" y2="449.93" stroke="#1b9cb6" stroke-width="0.9" />
<line x1="222.76" y1="422.29" x2="228.76" y2="422.29" stroke="#1b9cb6" stroke-width="0.9" />
<line x1="222.76" y1="449.93" x2="228.76" y2="449.93" stroke="#1b9cb6" stroke-width="0.9" />
<circle cx="224.26" cy="420.68" r="1.8" fill="#1b9cb6"/>
<circle cx="227.26" cy="422.29" r="1.8" fill="#1b9cb6"/>
<circle cx="225.76" cy="425.09" r="1.8" fill="#1b9cb6"/>
<circle cx="225.76" cy="433.91" r="1.8" fill="#1b9cb6"/>
<circle cx="225.76" cy="443.92" r="1.8" fill="#1b9cb6"/>
<circle cx="225.76" cy="466.76" r="1.8" fill="#1b9cb6"/>
<rect x="243.53" y="486.40" width="7.30" height="1.60" fill="#d8d8d8" stroke="#b4b4b4" stroke-width="1.2"/>
<circle cx="247.18" cy="486.40" r="1.9" fill="#aaaaaa"/>
<circle cx="244.68" cy="486.40" r="1.9" fill="#aaaaaa"/>
<circle cx="249.68" cy="486.40" r="1.9" fill="#aaaaaa"/>
<rect x="256.53" y="474.38" width="7.30" height="13.62" fill="#7f7f7f" stroke="#000" stroke-width="1.5"/>
<line x1="260.18" y1="467.16" x2="260.18" y2="481.19" stroke="#222" stroke-width="0.9" />
<line x1="257.18" y1="467.16" x2="263.18" y2="467.16" stroke="#222" stroke-width="0.9" />
<line x1="257.18" y1="481.19" x2="263.18" y2="481.19" stroke="#222" stroke-width="0.9" />
<circle cx="260.18" cy="459.55" r="1.8" fill="#000"/>
<circle cx="259.18" cy="471.17" r="1.8" fill="#000"/>
<circle cx="262.68" cy="473.57" r="1.8" fill="#000"/>
<circle cx="260.18" cy="477.18" r="1.8" fill="#000"/>
<circle cx="260.18" cy="481.99" r="1.8" fill="#000"/>
<rect x="269.53" y="441.92" width="7.30" height="46.08" fill="#86ccd8" stroke="#1b9cb6" stroke-width="1.5"/>
<line x1="273.18" y1="428.30" x2="273.18" y2="455.54" stroke="#1b9cb6" stroke-width="0.9" />
<line x1="270.18" y1="428.30" x2="276.18" y2="428.30" stroke="#1b9cb6" stroke-width="0.9" />
<line x1="270.18" y1="455.54" x2="276.18" y2="455.54" stroke="#1b9cb6" stroke-width="0.9" />
<circle cx="270.18" cy="428.30" r="1.8" fill="#1b9cb6"/>
<circle cx="276.18" cy="428.30" r="1.8" fill="#1b9cb6"/>
<circle cx="273.18" cy="431.10" r="1.8" fill="#1b9cb6"/>
<circle cx="270.58" cy="432.70" r="1.8" fill="#1b9cb6"/>
<circle cx="273.18" cy="437.11" r="1.8" fill="#1b9cb6"/>
<circle cx="273.18" cy="446.73" r="1.8" fill="#1b9cb6"/>
<circle cx="273.18" cy="468.37" r="1.8" fill="#1b9cb6"/>
<rect x="290.95" y="486.40" width="7.30" height="1.60" fill="#d8d8d8" stroke="#b4b4b4" stroke-width="1.2"/>
<circle cx="294.60" cy="486.40" r="1.9" fill="#aaaaaa"/>
<circle cx="292.10" cy="486.40" r="1.9" fill="#aaaaaa"/>
<circle cx="297.10" cy="486.40" r="1.9" fill="#aaaaaa"/>
<rect x="303.95" y="466.76" width="7.30" height="21.24" fill="#7f7f7f" stroke="#000" stroke-width="1.5"/>
<line x1="307.60" y1="458.35" x2="307.60" y2="475.18" stroke="#222" stroke-width="0.9" />
<line x1="304.60" y1="458.35" x2="310.60" y2="458.35" stroke="#222" stroke-width="0.9" />
<line x1="304.60" y1="475.18" x2="310.60" y2="475.18" stroke="#222" stroke-width="0.9" />
<circle cx="307.60" cy="450.33" r="1.8" fill="#000"/>
<circle cx="307.60" cy="461.15" r="1.8" fill="#000"/>
<circle cx="304.60" cy="464.36" r="1.8" fill="#000"/>
<circle cx="310.60" cy="466.76" r="1.8" fill="#000"/>
<circle cx="307.60" cy="474.78" r="1.8" fill="#000"/>
<circle cx="307.60" cy="479.18" r="1.8" fill="#000"/>
<rect x="316.95" y="437.51" width="7.30" height="50.49" fill="#86ccd8" stroke="#1b9cb6" stroke-width="1.5"/>
<line x1="320.60" y1="425.09" x2="320.60" y2="449.93" stroke="#1b9cb6" stroke-width="0.9" />
<line x1="317.60" y1="425.09" x2="323.60" y2="425.09" stroke="#1b9cb6" stroke-width="0.9" />
<line x1="317.60" y1="449.93" x2="323.60" y2="449.93" stroke="#1b9cb6" stroke-width="0.9" />
<circle cx="320.60" cy="420.68" r="1.8" fill="#1b9cb6"/>
<circle cx="320.60" cy="425.09" r="1.8" fill="#1b9cb6"/>
<circle cx="317.10" cy="433.10" r="1.8" fill="#1b9cb6"/>
<circle cx="324.10" cy="433.10" r="1.8" fill="#1b9cb6"/>
<circle cx="320.60" cy="440.32" r="1.8" fill="#1b9cb6"/>
<circle cx="320.60" cy="449.93" r="1.8" fill="#1b9cb6"/>
<circle cx="320.60" cy="457.15" r="1.8" fill="#1b9cb6"/>
<text transform="translate(75.50 506.00) rotate(-45)" font-size="15.2" text-anchor="end">Pru p 3</text>
<text transform="translate(122.92 506.00) rotate(-45)" font-size="15.2" text-anchor="end">Cor a 8</text>
<text transform="translate(170.34 506.00) rotate(-45)" font-size="15.2" text-anchor="end">Ara h 9</text>
<text transform="translate(217.76 506.00) rotate(-45)" font-size="15.2" text-anchor="end">Par j 2</text>
<text transform="translate(265.18 506.00) rotate(-45)" font-size="15.2" text-anchor="end">Tri a 14</text>
<text transform="translate(312.60 506.00) rotate(-45)" font-size="15.2" text-anchor="end">Pla a 3</text>
<text transform="translate(26.00 424.00) rotate(-90)" font-size="15" text-anchor="middle">A<tspan font-size="11" dy="3.8">450</tspan></text>
<path d="M209.11 398.05L209.11 403.15M211.32 399.33L206.90 401.88M211.32 401.88L206.90 399.33" stroke="#111" stroke-width="1.45"/>
<path d="M215.11 398.05L215.11 403.15M217.32 399.33L212.90 401.88M217.32 401.88L212.90 399.33" stroke="#111" stroke-width="1.45"/>
<path d="M221.11 398.05L221.11 403.15M223.32 399.33L218.90 401.88M223.32 401.88L218.90 399.33" stroke="#111" stroke-width="1.45"/>
<path d="M227.11 398.05L227.11 403.15M229.32 399.33L224.90 401.88M229.32 401.88L224.90 399.33" stroke="#111" stroke-width="1.45"/>
<line x1="209.76" y1="407.40" x2="225.76" y2="407.40" stroke="#444" stroke-width="1" />
<path d="M256.53 398.05L256.53 403.15M258.74 399.33L254.32 401.88M258.74 401.88L254.32 399.33" stroke="#111" stroke-width="1.45"/>
<path d="M262.53 398.05L262.53 403.15M264.74 399.33L260.32 401.88M264.74 401.88L260.32 399.33" stroke="#111" stroke-width="1.45"/>
<path d="M268.53 398.05L268.53 403.15M270.74 399.33L266.32 401.88M270.74 401.88L266.32 399.33" stroke="#111" stroke-width="1.45"/>
<path d="M274.53 398.05L274.53 403.15M276.74 399.33L272.32 401.88M276.74 401.88L272.32 399.33" stroke="#111" stroke-width="1.45"/>
<line x1="257.18" y1="407.40" x2="273.18" y2="407.40" stroke="#444" stroke-width="1" />
<path d="M303.95 398.05L303.95 403.15M306.16 399.33L301.74 401.88M306.16 401.88L301.74 399.33" stroke="#111" stroke-width="1.45"/>
<path d="M309.95 398.05L309.95 403.15M312.16 399.33L307.74 401.88M312.16 401.88L307.74 399.33" stroke="#111" stroke-width="1.45"/>
<path d="M315.95 398.05L315.95 403.15M318.16 399.33L313.74 401.88M318.16 401.88L313.74 399.33" stroke="#111" stroke-width="1.45"/>
<path d="M321.95 398.05L321.95 403.15M324.16 399.33L319.74 401.88M324.16 401.88L319.74 399.33" stroke="#111" stroke-width="1.45"/>
<line x1="304.60" y1="407.40" x2="320.60" y2="407.40" stroke="#444" stroke-width="1" />
<text x="154.30" y="346.30" font-size="18.3" text-anchor="start" fill="#000" >IgG</text>
<text x="184.60" y="351.20" font-size="12" text-anchor="start" fill="#000" >1</text>
<line x1="405.50" y1="373.25" x2="405.50" y2="489.25" stroke="#000" stroke-width="1.5" />
<line x1="404.75" y1="488.50" x2="676.00" y2="488.50" stroke="#000" stroke-width="1.5" />
<line x1="401.00" y1="488.50" x2="405.50" y2="488.50" stroke="#000" stroke-width="1.4" />
<text x="400.00" y="493.47" font-size="13.8" text-anchor="end" fill="#000" >0.0</text>
<line x1="401.00" y1="465.45" x2="405.50" y2="465.45" stroke="#000" stroke-width="1.4" />
<text x="400.00" y="470.42" font-size="13.8" text-anchor="end" fill="#000" >0.5</text>
<line x1="401.00" y1="442.40" x2="405.50" y2="442.40" stroke="#000" stroke-width="1.4" />
<text x="400.00" y="447.37" font-size="13.8" text-anchor="end" fill="#000" >1.0</text>
<line x1="401.00" y1="419.35" x2="405.50" y2="419.35" stroke="#000" stroke-width="1.4" />
<text x="400.00" y="424.32" font-size="13.8" text-anchor="end" fill="#000" >1.5</text>
<line x1="401.00" y1="396.30" x2="405.50" y2="396.30" stroke="#000" stroke-width="1.4" />
<text x="400.00" y="401.27" font-size="13.8" text-anchor="end" fill="#000" >2.0</text>
<line x1="401.00" y1="373.25" x2="405.50" y2="373.25" stroke="#000" stroke-width="1.4" />
<text x="400.00" y="378.22" font-size="13.8" text-anchor="end" fill="#000" >2.5</text>
<line x1="426.40" y1="488.50" x2="426.40" y2="493.00" stroke="#000" stroke-width="1.4" />
<line x1="471.98" y1="488.50" x2="471.98" y2="493.00" stroke="#000" stroke-width="1.4" />
<line x1="517.56" y1="488.50" x2="517.56" y2="493.00" stroke="#000" stroke-width="1.4" />
<line x1="563.14" y1="488.50" x2="563.14" y2="493.00" stroke="#000" stroke-width="1.4" />
<line x1="608.72" y1="488.50" x2="608.72" y2="493.00" stroke="#000" stroke-width="1.4" />
<line x1="654.30" y1="488.50" x2="654.30" y2="493.00" stroke="#000" stroke-width="1.4" />
<rect x="409.75" y="487.12" width="7.30" height="1.38" fill="#d8d8d8" stroke="#b4b4b4" stroke-width="1.2"/>
<circle cx="413.40" cy="487.12" r="1.9" fill="#aaaaaa"/>
<circle cx="410.90" cy="487.12" r="1.9" fill="#aaaaaa"/>
<rect x="422.75" y="472.37" width="7.30" height="16.13" fill="#7f7f7f" stroke="#000" stroke-width="1.5"/>
<line x1="426.40" y1="463.14" x2="426.40" y2="480.66" stroke="#222" stroke-width="0.9" />
<line x1="423.40" y1="463.14" x2="429.40" y2="463.14" stroke="#222" stroke-width="0.9" />
<line x1="423.40" y1="480.66" x2="429.40" y2="480.66" stroke="#222" stroke-width="0.9" />
<circle cx="426.40" cy="460.38" r="1.8" fill="#000"/>
<circle cx="426.40" cy="463.61" r="1.8" fill="#000"/>
<circle cx="423.40" cy="468.22" r="1.8" fill="#000"/>
<circle cx="429.40" cy="468.22" r="1.8" fill="#000"/>
<circle cx="426.40" cy="475.13" r="1.8" fill="#000"/>
<circle cx="426.40" cy="479.28" r="1.8" fill="#000"/>
<circle cx="426.40" cy="484.81" r="1.8" fill="#000"/>
<rect x="435.15" y="427.19" width="7.30" height="61.31" fill="#86ccd8" stroke="#1b9cb6" stroke-width="1.5"/>
<line x1="438.80" y1="407.36" x2="438.80" y2="447.01" stroke="#1b9cb6" stroke-width="0.9" />
<line x1="435.80" y1="407.36" x2="441.80" y2="407.36" stroke="#1b9cb6" stroke-width="0.9" />
<line x1="435.80" y1="447.01" x2="441.80" y2="447.01" stroke="#1b9cb6" stroke-width="0.9" />
<circle cx="438.80" cy="393.53" r="1.8" fill="#1b9cb6"/>
<circle cx="438.80" cy="410.13" r="1.8" fill="#1b9cb6"/>
<circle cx="438.80" cy="418.89" r="1.8" fill="#1b9cb6"/>
<circle cx="435.50" cy="427.19" r="1.8" fill="#1b9cb6"/>
<circle cx="438.80" cy="427.19" r="1.8" fill="#1b9cb6"/>
<circle cx="442.10" cy="427.19" r="1.8" fill="#1b9cb6"/>
<circle cx="438.80" cy="443.78" r="1.8" fill="#1b9cb6"/>
<circle cx="436.30" cy="448.85" r="1.8" fill="#1b9cb6"/>
<circle cx="441.30" cy="448.85" r="1.8" fill="#1b9cb6"/>
<path d="M423.25 365.25L423.25 370.35M425.46 366.53L421.04 369.07M425.46 369.07L421.04 366.53" stroke="#111" stroke-width="1.45"/>
<path d="M429.25 365.25L429.25 370.35M431.46 366.53L427.04 369.07M431.46 369.07L427.04 366.53" stroke="#111" stroke-width="1.45"/>
<path d="M435.25 365.25L435.25 370.35M437.46 366.53L433.04 369.07M437.46 369.07L433.04 366.53" stroke="#111" stroke-width="1.45"/>
<path d="M441.25 365.25L441.25 370.35M443.46 366.53L439.04 369.07M443.46 369.07L439.04 366.53" stroke="#111" stroke-width="1.45"/>
<line x1="427.20" y1="373.20" x2="436.60" y2="373.20" stroke="#444" stroke-width="1" />
<rect x="455.33" y="486.66" width="7.30" height="1.84" fill="#d8d8d8" stroke="#b4b4b4" stroke-width="1.2"/>
<circle cx="458.98" cy="484.81" r="1.9" fill="#aaaaaa"/>
<circle cx="460.98" cy="487.12" r="1.9" fill="#aaaaaa"/>
<rect x="468.33" y="473.29" width="7.30" height="15.21" fill="#7f7f7f" stroke="#000" stroke-width="1.5"/>
<line x1="471.98" y1="466.83" x2="471.98" y2="479.28" stroke="#222" stroke-width="0.9" />
<line x1="468.98" y1="466.83" x2="474.98" y2="466.83" stroke="#222" stroke-width="0.9" />
<line x1="468.98" y1="479.28" x2="474.98" y2="479.28" stroke="#222" stroke-width="0.9" />
<circle cx="471.98" cy="464.53" r="1.8" fill="#000"/>
<circle cx="471.98" cy="467.29" r="1.8" fill="#000"/>
<circle cx="469.48" cy="471.44" r="1.8" fill="#000"/>
<circle cx="474.48" cy="471.44" r="1.8" fill="#000"/>
<circle cx="471.98" cy="476.51" r="1.8" fill="#000"/>
<rect x="480.73" y="428.11" width="7.30" height="60.39" fill="#86ccd8" stroke="#1b9cb6" stroke-width="1.5"/>
<line x1="484.38" y1="404.14" x2="484.38" y2="451.62" stroke="#1b9cb6" stroke-width="0.9" />
<line x1="481.38" y1="404.14" x2="487.38" y2="404.14" stroke="#1b9cb6" stroke-width="0.9" />
<line x1="481.38" y1="451.62" x2="487.38" y2="451.62" stroke="#1b9cb6" stroke-width="0.9" />
<circle cx="484.38" cy="390.31" r="1.8" fill="#1b9cb6"/>
<circle cx="484.38" cy="402.29" r="1.8" fill="#1b9cb6"/>
<circle cx="484.38" cy="424.42" r="1.8" fill="#1b9cb6"/>
<circle cx="481.38" cy="431.34" r="1.8" fill="#1b9cb6"/>
<circle cx="487.38" cy="431.34" r="1.8" fill="#1b9cb6"/>
<circle cx="484.38" cy="435.49" r="1.8" fill="#1b9cb6"/>
<circle cx="484.38" cy="467.29" r="1.8" fill="#1b9cb6"/>
<path d="M468.83 365.25L468.83 370.35M471.04 366.53L466.62 369.07M471.04 369.07L466.62 366.53" stroke="#111" stroke-width="1.45"/>
<path d="M474.83 365.25L474.83 370.35M477.04 366.53L472.62 369.07M477.04 369.07L472.62 366.53" stroke="#111" stroke-width="1.45"/>
<path d="M480.83 365.25L480.83 370.35M483.04 366.53L478.62 369.07M483.04 369.07L478.62 366.53" stroke="#111" stroke-width="1.45"/>
<path d="M486.83 365.25L486.83 370.35M489.04 366.53L484.62 369.07M489.04 369.07L484.62 366.53" stroke="#111" stroke-width="1.45"/>
<line x1="472.78" y1="373.20" x2="482.18" y2="373.20" stroke="#444" stroke-width="1" />
<rect x="500.91" y="487.12" width="7.30" height="1.38" fill="#d8d8d8" stroke="#b4b4b4" stroke-width="1.2"/>
<circle cx="504.56" cy="487.12" r="1.9" fill="#aaaaaa"/>
<circle cx="502.06" cy="487.12" r="1.9" fill="#aaaaaa"/>
<rect x="513.91" y="475.13" width="7.30" height="13.37" fill="#7f7f7f" stroke="#000" stroke-width="1.5"/>
<line x1="517.56" y1="468.22" x2="517.56" y2="481.58" stroke="#222" stroke-width="0.9" />
<line x1="514.56" y1="468.22" x2="520.56" y2="468.22" stroke="#222" stroke-width="0.9" />
<line x1="514.56" y1="481.58" x2="520.56" y2="481.58" stroke="#222" stroke-width="0.9" />
<circle cx="515.06" cy="467.29" r="1.8" fill="#000"/>
<circle cx="520.06" cy="467.29" r="1.8" fill="#000"/>
<circle cx="517.56" cy="470.06" r="1.8" fill="#000"/>
<circle cx="517.56" cy="476.51" r="1.8" fill="#000"/>
<circle cx="517.56" cy="481.58" r="1.8" fill="#000"/>
<rect x="526.31" y="429.49" width="7.30" height="59.01" fill="#86ccd8" stroke="#1b9cb6" stroke-width="1.5"/>
<line x1="529.96" y1="399.99" x2="529.96" y2="457.15" stroke="#1b9cb6" stroke-width="0.9" />
<line x1="526.96" y1="399.99" x2="532.96" y2="399.99" stroke="#1b9cb6" stroke-width="0.9" />
<line x1="526.96" y1="457.15" x2="532.96" y2="457.15" stroke="#1b9cb6" stroke-width="0.9" />
<circle cx="526.46" cy="399.99" r="1.8" fill="#1b9cb6"/>
<circle cx="533.46" cy="399.99" r="1.8" fill="#1b9cb6"/>
<circle cx="526.46" cy="405.98" r="1.8" fill="#1b9cb6"/>
<circle cx="533.46" cy="405.98" r="1.8" fill="#1b9cb6"/>
<circle cx="529.96" cy="455.77" r="1.8" fill="#1b9cb6"/>
<circle cx="529.96" cy="461.76" r="1.8" fill="#1b9cb6"/>
<circle cx="529.96" cy="467.29" r="1.8" fill="#1b9cb6"/>
<path d="M514.41 365.25L514.41 370.35M516.62 366.53L512.20 369.07M516.62 369.07L512.20 366.53" stroke="#111" stroke-width="1.45"/>
<path d="M520.41 365.25L520.41 370.35M522.62 366.53L518.20 369.07M522.62 369.07L518.20 366.53" stroke="#111" stroke-width="1.45"/>
<path d="M526.41 365.25L526.41 370.35M528.62 366.53L524.20 369.07M528.62 369.07L524.20 366.53" stroke="#111" stroke-width="1.45"/>
<path d="M532.41 365.25L532.41 370.35M534.62 366.53L530.20 369.07M534.62 369.07L530.20 366.53" stroke="#111" stroke-width="1.45"/>
<line x1="518.36" y1="373.20" x2="527.76" y2="373.20" stroke="#444" stroke-width="1" />
<rect x="546.49" y="487.12" width="7.30" height="1.38" fill="#d8d8d8" stroke="#b4b4b4" stroke-width="1.2"/>
<circle cx="550.14" cy="487.12" r="1.9" fill="#aaaaaa"/>
<circle cx="547.64" cy="487.12" r="1.9" fill="#aaaaaa"/>
<rect x="559.49" y="486.66" width="7.30" height="1.84" fill="#7f7f7f" stroke="#000" stroke-width="1.5"/>
<line x1="563.14" y1="482.51" x2="563.14" y2="488.50" stroke="#222" stroke-width="0.9" />
<line x1="560.14" y1="482.51" x2="566.14" y2="482.51" stroke="#222" stroke-width="0.9" />
<line x1="560.14" y1="488.50" x2="566.14" y2="488.50" stroke="#222" stroke-width="0.9" />
<circle cx="561.14" cy="481.12" r="1.8" fill="#000"/>
<circle cx="565.14" cy="482.51" r="1.8" fill="#000"/>
<circle cx="560.54" cy="483.89" r="1.8" fill="#000"/>
<rect x="571.89" y="436.41" width="7.30" height="52.09" fill="#86ccd8" stroke="#1b9cb6" stroke-width="1.5"/>
<line x1="575.54" y1="413.82" x2="575.54" y2="458.07" stroke="#1b9cb6" stroke-width="0.9" />
<line x1="572.54" y1="413.82" x2="578.54" y2="413.82" stroke="#1b9cb6" stroke-width="0.9" />
<line x1="572.54" y1="458.07" x2="578.54" y2="458.07" stroke="#1b9cb6" stroke-width="0.9" />
<circle cx="575.54" cy="405.98" r="1.8" fill="#1b9cb6"/>
<circle cx="572.54" cy="413.82" r="1.8" fill="#1b9cb6"/>
<circle cx="578.54" cy="413.82" r="1.8" fill="#1b9cb6"/>
<circle cx="575.54" cy="440.56" r="1.8" fill="#1b9cb6"/>
<circle cx="575.54" cy="453.00" r="1.8" fill="#1b9cb6"/>
<circle cx="575.54" cy="455.77" r="1.8" fill="#1b9cb6"/>
<circle cx="575.54" cy="464.07" r="1.8" fill="#1b9cb6"/>
<path d="M559.99 365.25L559.99 370.35M562.20 366.53L557.78 369.07M562.20 369.07L557.78 366.53" stroke="#111" stroke-width="1.45"/>
<path d="M565.99 365.25L565.99 370.35M568.20 366.53L563.78 369.07M568.20 369.07L563.78 366.53" stroke="#111" stroke-width="1.45"/>
<path d="M571.99 365.25L571.99 370.35M574.20 366.53L569.78 369.07M574.20 369.07L569.78 366.53" stroke="#111" stroke-width="1.45"/>
<path d="M577.99 365.25L577.99 370.35M580.20 366.53L575.78 369.07M580.20 369.07L575.78 366.53" stroke="#111" stroke-width="1.45"/>
<line x1="563.94" y1="373.20" x2="573.34" y2="373.20" stroke="#444" stroke-width="1" />
<rect x="592.07" y="487.12" width="7.30" height="1.38" fill="#d8d8d8" stroke="#b4b4b4" stroke-width="1.2"/>
<circle cx="595.72" cy="487.12" r="1.9" fill="#aaaaaa"/>
<circle cx="593.22" cy="487.12" r="1.9" fill="#aaaaaa"/>
<rect x="605.07" y="487.58" width="7.30" height="0.92" fill="#7f7f7f" stroke="#000" stroke-width="1.5"/>
<line x1="608.72" y1="485.73" x2="608.72" y2="488.50" stroke="#222" stroke-width="0.9" />
<line x1="605.72" y1="485.73" x2="611.72" y2="485.73" stroke="#222" stroke-width="0.9" />
<line x1="605.72" y1="488.50" x2="611.72" y2="488.50" stroke="#222" stroke-width="0.9" />
<circle cx="608.72" cy="482.97" r="1.8" fill="#000"/>
<circle cx="608.72" cy="487.12" r="1.8" fill="#000"/>
<rect x="617.47" y="450.24" width="7.30" height="38.26" fill="#86ccd8" stroke="#1b9cb6" stroke-width="1.5"/>
<line x1="621.12" y1="440.10" x2="621.12" y2="458.07" stroke="#1b9cb6" stroke-width="0.9" />
<line x1="618.12" y1="440.10" x2="624.12" y2="440.10" stroke="#1b9cb6" stroke-width="0.9" />
<line x1="618.12" y1="458.07" x2="624.12" y2="458.07" stroke="#1b9cb6" stroke-width="0.9" />
<circle cx="618.12" cy="440.10" r="1.8" fill="#1b9cb6"/>
<circle cx="624.12" cy="440.10" r="1.8" fill="#1b9cb6"/>
<circle cx="619.12" cy="446.55" r="1.8" fill="#1b9cb6"/>
<circle cx="624.12" cy="447.93" r="1.8" fill="#1b9cb6"/>
<circle cx="621.12" cy="453.00" r="1.8" fill="#1b9cb6"/>
<circle cx="621.12" cy="465.91" r="1.8" fill="#1b9cb6"/>
<path d="M605.57 365.25L605.57 370.35M607.78 366.53L603.36 369.07M607.78 369.07L603.36 366.53" stroke="#111" stroke-width="1.45"/>
<path d="M611.57 365.25L611.57 370.35M613.78 366.53L609.36 369.07M613.78 369.07L609.36 366.53" stroke="#111" stroke-width="1.45"/>
<path d="M617.57 365.25L617.57 370.35M619.78 366.53L615.36 369.07M619.78 369.07L615.36 366.53" stroke="#111" stroke-width="1.45"/>
<path d="M623.57 365.25L623.57 370.35M625.78 366.53L621.36 369.07M625.78 369.07L621.36 366.53" stroke="#111" stroke-width="1.45"/>
<line x1="609.52" y1="373.20" x2="618.92" y2="373.20" stroke="#444" stroke-width="1" />
<rect x="637.65" y="487.12" width="7.30" height="1.38" fill="#d8d8d8" stroke="#b4b4b4" stroke-width="1.2"/>
<circle cx="641.30" cy="487.12" r="1.9" fill="#aaaaaa"/>
<circle cx="638.80" cy="487.12" r="1.9" fill="#aaaaaa"/>
<rect x="650.65" y="482.97" width="7.30" height="5.53" fill="#7f7f7f" stroke="#000" stroke-width="1.5"/>
<line x1="654.30" y1="476.98" x2="654.30" y2="488.50" stroke="#222" stroke-width="0.9" />
<line x1="651.30" y1="476.98" x2="657.30" y2="476.98" stroke="#222" stroke-width="0.9" />
<line x1="651.30" y1="488.50" x2="657.30" y2="488.50" stroke="#222" stroke-width="0.9" />
<circle cx="654.30" cy="472.83" r="1.8" fill="#000"/>
<circle cx="654.30" cy="476.05" r="1.8" fill="#000"/>
<circle cx="651.70" cy="478.36" r="1.8" fill="#000"/>
<circle cx="654.30" cy="481.58" r="1.8" fill="#000"/>
<circle cx="654.30" cy="486.19" r="1.8" fill="#000"/>
<rect x="663.05" y="411.97" width="7.30" height="76.53" fill="#86ccd8" stroke="#1b9cb6" stroke-width="1.5"/>
<line x1="666.70" y1="393.07" x2="666.70" y2="430.88" stroke="#1b9cb6" stroke-width="0.9" />
<line x1="663.70" y1="393.07" x2="669.70" y2="393.07" stroke="#1b9cb6" stroke-width="0.9" />
<line x1="663.70" y1="430.88" x2="669.70" y2="430.88" stroke="#1b9cb6" stroke-width="0.9" />
<circle cx="666.70" cy="382.93" r="1.8" fill="#1b9cb6"/>
<circle cx="666.70" cy="393.07" r="1.8" fill="#1b9cb6"/>
<circle cx="666.70" cy="404.14" r="1.8" fill="#1b9cb6"/>
<circle cx="666.70" cy="407.82" r="1.8" fill="#1b9cb6"/>
<circle cx="666.70" cy="417.05" r="1.8" fill="#1b9cb6"/>
<circle cx="663.20" cy="420.27" r="1.8" fill="#1b9cb6"/>
<circle cx="670.20" cy="420.27" r="1.8" fill="#1b9cb6"/>
<circle cx="666.70" cy="443.78" r="1.8" fill="#1b9cb6"/>
<path d="M651.15 365.25L651.15 370.35M653.36 366.53L648.94 369.07M653.36 369.07L648.94 366.53" stroke="#111" stroke-width="1.45"/>
<path d="M657.15 365.25L657.15 370.35M659.36 366.53L654.94 369.07M659.36 369.07L654.94 366.53" stroke="#111" stroke-width="1.45"/>
<path d="M663.15 365.25L663.15 370.35M665.36 366.53L660.94 369.07M665.36 369.07L660.94 366.53" stroke="#111" stroke-width="1.45"/>
<path d="M669.15 365.25L669.15 370.35M671.36 366.53L666.94 369.07M671.36 369.07L666.94 366.53" stroke="#111" stroke-width="1.45"/>
<line x1="655.10" y1="373.20" x2="664.50" y2="373.20" stroke="#444" stroke-width="1" />
<text transform="translate(431.40 506.50) rotate(-45)" font-size="15.2" text-anchor="end">Pru p 3</text>
<text transform="translate(476.98 506.50) rotate(-45)" font-size="15.2" text-anchor="end">Cor a 8</text>
<text transform="translate(522.56 506.50) rotate(-45)" font-size="15.2" text-anchor="end">Ara h 9</text>
<text transform="translate(568.14 506.50) rotate(-45)" font-size="15.2" text-anchor="end">Par j 2</text>
<text transform="translate(613.72 506.50) rotate(-45)" font-size="15.2" text-anchor="end">Tri a 14</text>
<text transform="translate(659.30 506.50) rotate(-45)" font-size="15.2" text-anchor="end">Pla a 3</text>
<text transform="translate(371.30 426.80) rotate(-90)" font-size="15" text-anchor="middle">A<tspan font-size="11" dy="3.8">450</tspan></text>
<text x="528.80" y="346.40" font-size="18.3" text-anchor="start" fill="#000" >IgG</text>
<text x="558.60" y="351.50" font-size="12" text-anchor="start" fill="#000" >2a</text>
<line x1="48.20" y1="606.39" x2="48.20" y2="728.55" stroke="#000" stroke-width="1.5" />
<line x1="47.45" y1="727.80" x2="329.50" y2="727.80" stroke="#000" stroke-width="1.5" />
<line x1="43.70" y1="727.80" x2="48.20" y2="727.80" stroke="#000" stroke-width="1.4" />
<text x="42.70" y="732.66" font-size="13.5" text-anchor="end" fill="#000" >0</text>
<line x1="43.70" y1="693.53" x2="48.20" y2="693.53" stroke="#000" stroke-width="1.4" />
<text x="42.70" y="698.39" font-size="13.5" text-anchor="end" fill="#000" >1</text>
<line x1="43.70" y1="659.26" x2="48.20" y2="659.26" stroke="#000" stroke-width="1.4" />
<text x="42.70" y="664.12" font-size="13.5" text-anchor="end" fill="#000" >2</text>
<line x1="43.70" y1="624.99" x2="48.20" y2="624.99" stroke="#000" stroke-width="1.4" />
<text x="42.70" y="629.85" font-size="13.5" text-anchor="end" fill="#000" >3</text>
<line x1="69.70" y1="727.80" x2="69.70" y2="732.30" stroke="#000" stroke-width="1.4" />
<line x1="117.20" y1="727.80" x2="117.20" y2="732.30" stroke="#000" stroke-width="1.4" />
<line x1="164.70" y1="727.80" x2="164.70" y2="732.30" stroke="#000" stroke-width="1.4" />
<line x1="212.20" y1="727.80" x2="212.20" y2="732.30" stroke="#000" stroke-width="1.4" />
<line x1="259.70" y1="727.80" x2="259.70" y2="732.30" stroke="#000" stroke-width="1.4" />
<line x1="307.20" y1="727.80" x2="307.20" y2="732.30" stroke="#000" stroke-width="1.4" />
<rect x="53.25" y="725.40" width="7.30" height="2.40" fill="#d8d8d8" stroke="#b4b4b4" stroke-width="1.2"/>
<circle cx="56.90" cy="725.40" r="1.9" fill="#aaaaaa"/>
<circle cx="54.40" cy="725.40" r="1.9" fill="#aaaaaa"/>
<rect x="66.05" y="715.46" width="7.30" height="12.34" fill="#7f7f7f" stroke="#000" stroke-width="1.5"/>
<line x1="69.70" y1="702.10" x2="69.70" y2="727.80" stroke="#222" stroke-width="0.9" />
<line x1="66.70" y1="702.10" x2="72.70" y2="702.10" stroke="#222" stroke-width="0.9" />
<line x1="66.70" y1="727.80" x2="72.70" y2="727.80" stroke="#222" stroke-width="0.9" />
<circle cx="69.70" cy="683.93" r="1.8" fill="#000"/>
<circle cx="69.70" cy="714.09" r="1.8" fill="#000"/>
<circle cx="69.70" cy="717.52" r="1.8" fill="#000"/>
<circle cx="69.70" cy="720.95" r="1.8" fill="#000"/>
<rect x="78.95" y="674.68" width="7.30" height="53.12" fill="#86ccd8" stroke="#1b9cb6" stroke-width="1.5"/>
<line x1="82.60" y1="634.59" x2="82.60" y2="714.09" stroke="#1b9cb6" stroke-width="0.9" />
<line x1="79.60" y1="634.59" x2="85.60" y2="634.59" stroke="#1b9cb6" stroke-width="0.9" />
<line x1="79.60" y1="714.09" x2="85.60" y2="714.09" stroke="#1b9cb6" stroke-width="0.9" />
<circle cx="82.60" cy="622.59" r="1.8" fill="#1b9cb6"/>
<circle cx="80.00" cy="624.30" r="1.8" fill="#1b9cb6"/>
<circle cx="82.60" cy="638.01" r="1.8" fill="#1b9cb6"/>
<circle cx="82.60" cy="679.82" r="1.8" fill="#1b9cb6"/>
<circle cx="82.60" cy="704.50" r="1.8" fill="#1b9cb6"/>
<circle cx="80.00" cy="703.81" r="1.8" fill="#1b9cb6"/>
<circle cx="82.60" cy="708.95" r="1.8" fill="#1b9cb6"/>
<circle cx="82.60" cy="713.06" r="1.8" fill="#1b9cb6"/>
<path d="M70.50 608.65L70.50 613.75M72.71 609.93L68.29 612.48M72.71 612.48L68.29 609.93" stroke="#111" stroke-width="1.45"/>
<path d="M76.50 608.65L76.50 613.75M78.71 609.93L74.29 612.48M78.71 612.48L74.29 609.93" stroke="#111" stroke-width="1.45"/>
<line x1="68.40" y1="617.40" x2="78.90" y2="617.40" stroke="#444" stroke-width="1" />
<rect x="100.75" y="725.74" width="7.30" height="2.06" fill="#d8d8d8" stroke="#b4b4b4" stroke-width="1.2"/>
<circle cx="104.40" cy="725.74" r="1.9" fill="#aaaaaa"/>
<circle cx="101.90" cy="725.74" r="1.9" fill="#aaaaaa"/>
<rect x="113.55" y="716.49" width="7.30" height="11.31" fill="#7f7f7f" stroke="#000" stroke-width="1.5"/>
<line x1="117.20" y1="707.24" x2="117.20" y2="725.74" stroke="#222" stroke-width="0.9" />
<line x1="114.20" y1="707.24" x2="120.20" y2="707.24" stroke="#222" stroke-width="0.9" />
<line x1="114.20" y1="725.74" x2="120.20" y2="725.74" stroke="#222" stroke-width="0.9" />
<circle cx="117.20" cy="695.24" r="1.8" fill="#000"/>
<circle cx="117.20" cy="715.81" r="1.8" fill="#000"/>
<circle cx="117.20" cy="719.23" r="1.8" fill="#000"/>
<circle cx="117.20" cy="724.37" r="1.8" fill="#000"/>
<rect x="126.45" y="677.42" width="7.30" height="50.38" fill="#86ccd8" stroke="#1b9cb6" stroke-width="1.5"/>
<line x1="130.10" y1="641.44" x2="130.10" y2="712.38" stroke="#1b9cb6" stroke-width="0.9" />
<line x1="127.10" y1="641.44" x2="133.10" y2="641.44" stroke="#1b9cb6" stroke-width="0.9" />
<line x1="127.10" y1="712.38" x2="133.10" y2="712.38" stroke="#1b9cb6" stroke-width="0.9" />
<circle cx="130.10" cy="633.56" r="1.8" fill="#1b9cb6"/>
<circle cx="130.10" cy="635.96" r="1.8" fill="#1b9cb6"/>
<circle cx="127.50" cy="635.96" r="1.8" fill="#1b9cb6"/>
<circle cx="130.10" cy="685.99" r="1.8" fill="#1b9cb6"/>
<circle cx="130.10" cy="702.10" r="1.8" fill="#1b9cb6"/>
<circle cx="130.10" cy="707.24" r="1.8" fill="#1b9cb6"/>
<circle cx="130.10" cy="710.66" r="1.8" fill="#1b9cb6"/>
<path d="M118.00 608.65L118.00 613.75M120.21 609.93L115.79 612.48M120.21 612.48L115.79 609.93" stroke="#111" stroke-width="1.45"/>
<path d="M124.00 608.65L124.00 613.75M126.21 609.93L121.79 612.48M126.21 612.48L121.79 609.93" stroke="#111" stroke-width="1.45"/>
<line x1="115.90" y1="617.40" x2="126.40" y2="617.40" stroke="#444" stroke-width="1" />
<rect x="148.25" y="726.09" width="7.30" height="1.71" fill="#d8d8d8" stroke="#b4b4b4" stroke-width="1.2"/>
<circle cx="151.90" cy="726.09" r="1.9" fill="#aaaaaa"/>
<circle cx="149.40" cy="726.09" r="1.9" fill="#aaaaaa"/>
<rect x="161.05" y="715.81" width="7.30" height="11.99" fill="#7f7f7f" stroke="#000" stroke-width="1.5"/>
<line x1="164.70" y1="703.13" x2="164.70" y2="727.80" stroke="#222" stroke-width="0.9" />
<line x1="161.70" y1="703.13" x2="167.70" y2="703.13" stroke="#222" stroke-width="0.9" />
<line x1="161.70" y1="727.80" x2="167.70" y2="727.80" stroke="#222" stroke-width="0.9" />
<circle cx="164.70" cy="686.68" r="1.8" fill="#000"/>
<circle cx="164.70" cy="715.81" r="1.8" fill="#000"/>
<circle cx="162.10" cy="717.52" r="1.8" fill="#000"/>
<circle cx="164.70" cy="720.95" r="1.8" fill="#000"/>
<rect x="173.95" y="679.14" width="7.30" height="48.66" fill="#86ccd8" stroke="#1b9cb6" stroke-width="1.5"/>
<line x1="177.60" y1="646.92" x2="177.60" y2="710.66" stroke="#1b9cb6" stroke-width="0.9" />
<line x1="174.60" y1="646.92" x2="180.60" y2="646.92" stroke="#1b9cb6" stroke-width="0.9" />
<line x1="174.60" y1="710.66" x2="180.60" y2="710.66" stroke="#1b9cb6" stroke-width="0.9" />
<circle cx="177.60" cy="635.27" r="1.8" fill="#1b9cb6"/>
<circle cx="177.60" cy="640.41" r="1.8" fill="#1b9cb6"/>
<circle cx="177.60" cy="650.69" r="1.8" fill="#1b9cb6"/>
<circle cx="177.60" cy="684.96" r="1.8" fill="#1b9cb6"/>
<circle cx="177.60" cy="700.38" r="1.8" fill="#1b9cb6"/>
<circle cx="177.60" cy="707.24" r="1.8" fill="#1b9cb6"/>
<circle cx="177.60" cy="712.38" r="1.8" fill="#1b9cb6"/>
<path d="M165.50 608.65L165.50 613.75M167.71 609.93L163.29 612.48M167.71 612.48L163.29 609.93" stroke="#111" stroke-width="1.45"/>
<path d="M171.50 608.65L171.50 613.75M173.71 609.93L169.29 612.48M173.71 612.48L169.29 609.93" stroke="#111" stroke-width="1.45"/>
<line x1="163.40" y1="617.40" x2="173.90" y2="617.40" stroke="#444" stroke-width="1" />
<rect x="195.75" y="726.09" width="7.30" height="1.71" fill="#d8d8d8" stroke="#b4b4b4" stroke-width="1.2"/>
<circle cx="199.40" cy="726.09" r="1.9" fill="#aaaaaa"/>
<circle cx="196.90" cy="726.09" r="1.9" fill="#aaaaaa"/>
<rect x="208.55" y="720.95" width="7.30" height="6.85" fill="#7f7f7f" stroke="#000" stroke-width="1.5"/>
<line x1="212.20" y1="715.46" x2="212.20" y2="726.43" stroke="#222" stroke-width="0.9" />
<line x1="209.20" y1="715.46" x2="215.20" y2="715.46" stroke="#222" stroke-width="0.9" />
<line x1="209.20" y1="726.43" x2="215.20" y2="726.43" stroke="#222" stroke-width="0.9" />
<circle cx="212.20" cy="708.27" r="1.8" fill="#000"/>
<circle cx="212.20" cy="717.52" r="1.8" fill="#000"/>
<circle cx="212.20" cy="722.66" r="1.8" fill="#000"/>
<rect x="221.45" y="690.45" width="7.30" height="37.35" fill="#86ccd8" stroke="#1b9cb6" stroke-width="1.5"/>
<line x1="225.10" y1="664.40" x2="225.10" y2="716.49" stroke="#1b9cb6" stroke-width="0.9" />
<line x1="222.10" y1="664.40" x2="228.10" y2="664.40" stroke="#1b9cb6" stroke-width="0.9" />
<line x1="222.10" y1="716.49" x2="228.10" y2="716.49" stroke="#1b9cb6" stroke-width="0.9" />
<circle cx="225.10" cy="657.55" r="1.8" fill="#1b9cb6"/>
<circle cx="222.50" cy="659.60" r="1.8" fill="#1b9cb6"/>
<circle cx="225.10" cy="662.69" r="1.8" fill="#1b9cb6"/>
<circle cx="225.10" cy="692.16" r="1.8" fill="#1b9cb6"/>
<circle cx="225.10" cy="704.50" r="1.8" fill="#1b9cb6"/>
<circle cx="225.10" cy="710.32" r="1.8" fill="#1b9cb6"/>
<circle cx="225.10" cy="718.55" r="1.8" fill="#1b9cb6"/>
<path d="M213.00 608.65L213.00 613.75M215.21 609.93L210.79 612.48M215.21 612.48L210.79 609.93" stroke="#111" stroke-width="1.45"/>
<path d="M219.00 608.65L219.00 613.75M221.21 609.93L216.79 612.48M221.21 612.48L216.79 609.93" stroke="#111" stroke-width="1.45"/>
<line x1="210.90" y1="617.40" x2="221.40" y2="617.40" stroke="#444" stroke-width="1" />
<rect x="243.25" y="726.09" width="7.30" height="1.71" fill="#d8d8d8" stroke="#b4b4b4" stroke-width="1.2"/>
<circle cx="246.90" cy="726.09" r="1.9" fill="#aaaaaa"/>
<circle cx="244.40" cy="726.09" r="1.9" fill="#aaaaaa"/>
<rect x="256.05" y="721.97" width="7.30" height="5.83" fill="#7f7f7f" stroke="#000" stroke-width="1.5"/>
<line x1="259.70" y1="717.18" x2="259.70" y2="726.77" stroke="#222" stroke-width="0.9" />
<line x1="256.70" y1="717.18" x2="262.70" y2="717.18" stroke="#222" stroke-width="0.9" />
<line x1="256.70" y1="726.77" x2="262.70" y2="726.77" stroke="#222" stroke-width="0.9" />
<circle cx="259.70" cy="712.04" r="1.8" fill="#000"/>
<circle cx="259.70" cy="717.86" r="1.8" fill="#000"/>
<circle cx="259.70" cy="724.37" r="1.8" fill="#000"/>
<rect x="268.95" y="692.16" width="7.30" height="35.64" fill="#86ccd8" stroke="#1b9cb6" stroke-width="1.5"/>
<line x1="272.60" y1="668.17" x2="272.60" y2="716.15" stroke="#1b9cb6" stroke-width="0.9" />
<line x1="269.60" y1="668.17" x2="275.60" y2="668.17" stroke="#1b9cb6" stroke-width="0.9" />
<line x1="269.60" y1="716.15" x2="275.60" y2="716.15" stroke="#1b9cb6" stroke-width="0.9" />
<circle cx="272.60" cy="658.92" r="1.8" fill="#1b9cb6"/>
<circle cx="272.60" cy="666.46" r="1.8" fill="#1b9cb6"/>
<circle cx="270.00" cy="666.46" r="1.8" fill="#1b9cb6"/>
<circle cx="272.60" cy="696.27" r="1.8" fill="#1b9cb6"/>
<circle cx="272.60" cy="704.50" r="1.8" fill="#1b9cb6"/>
<circle cx="272.60" cy="717.18" r="1.8" fill="#1b9cb6"/>
<path d="M260.50 608.65L260.50 613.75M262.71 609.93L258.29 612.48M262.71 612.48L258.29 609.93" stroke="#111" stroke-width="1.45"/>
<path d="M266.50 608.65L266.50 613.75M268.71 609.93L264.29 612.48M268.71 612.48L264.29 609.93" stroke="#111" stroke-width="1.45"/>
<line x1="258.40" y1="617.40" x2="268.90" y2="617.40" stroke="#444" stroke-width="1" />
<rect x="290.75" y="726.09" width="7.30" height="1.71" fill="#d8d8d8" stroke="#b4b4b4" stroke-width="1.2"/>
<circle cx="294.40" cy="726.09" r="1.9" fill="#aaaaaa"/>
<circle cx="291.90" cy="726.09" r="1.9" fill="#aaaaaa"/>
<rect x="303.55" y="715.81" width="7.30" height="11.99" fill="#7f7f7f" stroke="#000" stroke-width="1.5"/>
<line x1="307.20" y1="706.21" x2="307.20" y2="725.40" stroke="#222" stroke-width="0.9" />
<line x1="304.20" y1="706.21" x2="310.20" y2="706.21" stroke="#222" stroke-width="0.9" />
<line x1="304.20" y1="725.40" x2="310.20" y2="725.40" stroke="#222" stroke-width="0.9" />
<circle cx="307.20" cy="696.96" r="1.8" fill="#000"/>
<circle cx="307.20" cy="709.64" r="1.8" fill="#000"/>
<circle cx="307.20" cy="717.52" r="1.8" fill="#000"/>
<rect x="316.45" y="682.91" width="7.30" height="44.89" fill="#86ccd8" stroke="#1b9cb6" stroke-width="1.5"/>
<line x1="320.10" y1="650.35" x2="320.10" y2="715.46" stroke="#1b9cb6" stroke-width="0.9" />
<line x1="317.10" y1="650.35" x2="323.10" y2="650.35" stroke="#1b9cb6" stroke-width="0.9" />
<line x1="317.10" y1="715.46" x2="323.10" y2="715.46" stroke="#1b9cb6" stroke-width="0.9" />
<circle cx="320.10" cy="635.61" r="1.8" fill="#1b9cb6"/>
<circle cx="320.10" cy="639.38" r="1.8" fill="#1b9cb6"/>
<circle cx="320.10" cy="667.14" r="1.8" fill="#1b9cb6"/>
<circle cx="320.10" cy="679.14" r="1.8" fill="#1b9cb6"/>
<circle cx="320.10" cy="702.10" r="1.8" fill="#1b9cb6"/>
<circle cx="320.10" cy="706.90" r="1.8" fill="#1b9cb6"/>
<circle cx="320.10" cy="717.18" r="1.8" fill="#1b9cb6"/>
<path d="M308.00 608.65L308.00 613.75M310.21 609.93L305.79 612.48M310.21 612.48L305.79 609.93" stroke="#111" stroke-width="1.45"/>
<path d="M314.00 608.65L314.00 613.75M316.21 609.93L311.79 612.48M316.21 612.48L311.79 609.93" stroke="#111" stroke-width="1.45"/>
<line x1="305.90" y1="617.40" x2="316.40" y2="617.40" stroke="#444" stroke-width="1" />
<text transform="translate(74.70 745.80) rotate(-45)" font-size="15.2" text-anchor="end">Pru p 3</text>
<text transform="translate(122.20 745.80) rotate(-45)" font-size="15.2" text-anchor="end">Cor a 8</text>
<text transform="translate(169.70 745.80) rotate(-45)" font-size="15.2" text-anchor="end">Ara h 9</text>
<text transform="translate(217.20 745.80) rotate(-45)" font-size="15.2" text-anchor="end">Par j 2</text>
<text transform="translate(264.70 745.80) rotate(-45)" font-size="15.2" text-anchor="end">Tri a 14</text>
<text transform="translate(312.20 745.80) rotate(-45)" font-size="15.2" text-anchor="end">Pla a 3</text>
<text transform="translate(25.00 664.00) rotate(-90)" font-size="15" text-anchor="middle">A<tspan font-size="11" dy="3.8">450</tspan></text>
<text x="154.30" y="576.30" font-size="18.3" text-anchor="start" fill="#000" >IgG</text>
<text x="184.40" y="581.40" font-size="12" text-anchor="start" fill="#000" >2b</text>
<circle cx="344.90" cy="649.00" r="2.2" fill="#aaaaaa"/>
<text x="361.00" y="653.20" font-size="11.7" text-anchor="start" fill="#000" >Healthy control</text>
<circle cx="344.90" cy="668.10" r="2.2" fill="#000"/>
<text x="361.00" y="672.30" font-size="11.7" text-anchor="start" fill="#000" >Anaphylactic control</text>
<circle cx="344.90" cy="687.20" r="2.2" fill="#1b9cb6"/>
<text x="361.00" y="691.40" font-size="11.7" text-anchor="start" fill="#000" >cnsLTP1-mRNA</text>
<line x1="508.50" y1="591.50" x2="508.50" y2="735.45" stroke="#000" stroke-width="1.5" />
<line x1="507.75" y1="734.70" x2="616.00" y2="734.70" stroke="#000" stroke-width="1.5" />
<line x1="504.00" y1="734.70" x2="508.50" y2="734.70" stroke="#000" stroke-width="1.3" />
<text x="504.20" y="739.30" font-size="13" text-anchor="end" fill="#000" >0.0</text>
<line x1="504.00" y1="687.20" x2="508.50" y2="687.20" stroke="#000" stroke-width="1.3" />
<text x="504.20" y="691.80" font-size="13" text-anchor="end" fill="#000" >0.5</text>
<line x1="504.00" y1="639.70" x2="508.50" y2="639.70" stroke="#000" stroke-width="1.3" />
<text x="504.20" y="644.30" font-size="13" text-anchor="end" fill="#000" >1.0</text>
<line x1="504.00" y1="592.20" x2="508.50" y2="592.20" stroke="#000" stroke-width="1.3" />
<text x="504.20" y="596.80" font-size="13" text-anchor="end" fill="#000" >1.5</text>
<line x1="530.20" y1="734.70" x2="530.20" y2="739.20" stroke="#000" stroke-width="1.3" />
<line x1="561.70" y1="734.70" x2="561.70" y2="739.20" stroke="#000" stroke-width="1.3" />
<line x1="593.70" y1="734.70" x2="593.70" y2="739.20" stroke="#000" stroke-width="1.3" />
<rect x="519.70" y="714.20" width="21.00" height="20.50" fill="#dadada" stroke="#b4b4b4" stroke-width="1.4"/>
<line x1="530.20" y1="709.00" x2="530.20" y2="714.20" stroke="#999" stroke-width="1" />
<line x1="525.50" y1="709.00" x2="535.00" y2="709.00" stroke="#999" stroke-width="1" />
<circle cx="525.50" cy="706.00" r="1.9" fill="#a0a0a0"/>
<circle cx="530.00" cy="709.50" r="1.9" fill="#a0a0a0"/>
<circle cx="537.00" cy="713.00" r="1.9" fill="#a0a0a0"/>
<circle cx="520.50" cy="717.00" r="1.9" fill="#a0a0a0"/>
<circle cx="525.00" cy="716.00" r="1.9" fill="#a0a0a0"/>
<circle cx="530.00" cy="717.00" r="1.9" fill="#a0a0a0"/>
<circle cx="535.00" cy="716.50" r="1.9" fill="#a0a0a0"/>
<circle cx="539.50" cy="716.00" r="1.9" fill="#a0a0a0"/>
<rect x="551.20" y="682.00" width="21.00" height="52.70" fill="#7f7f7f" stroke="#000" stroke-width="1.6"/>
<line x1="561.70" y1="652.30" x2="561.70" y2="710.20" stroke="#444" stroke-width="1" />
<line x1="556.30" y1="652.30" x2="567.10" y2="652.30" stroke="#444" stroke-width="1" />
<line x1="556.30" y1="710.20" x2="567.10" y2="710.20" stroke="#444" stroke-width="1" />
<circle cx="561.70" cy="611.60" r="2.1" fill="#000"/>
<circle cx="556.50" cy="685.50" r="2.1" fill="#000"/>
<circle cx="562.00" cy="684.50" r="2.1" fill="#000"/>
<circle cx="567.00" cy="685.00" r="2.1" fill="#000"/>
<circle cx="561.50" cy="692.00" r="2.1" fill="#000"/>
<circle cx="561.50" cy="697.50" r="2.1" fill="#000"/>
<circle cx="558.00" cy="700.00" r="2.1" fill="#000"/>
<circle cx="565.00" cy="699.00" r="2.1" fill="#000"/>
<rect x="583.20" y="683.80" width="21.00" height="50.90" fill="#86ccd8" stroke="#1b9cb6" stroke-width="1.6"/>
<line x1="593.70" y1="675.60" x2="593.70" y2="691.30" stroke="#1b9cb6" stroke-width="1" />
<line x1="588.10" y1="675.60" x2="599.30" y2="675.60" stroke="#1b9cb6" stroke-width="1" />
<line x1="588.10" y1="691.30" x2="599.30" y2="691.30" stroke="#1b9cb6" stroke-width="1" />
<path d="M593.70 669.31L595.80 672.96L591.60 672.96Z" fill="#1b9cb6"/>
<path d="M588.00 683.31L590.10 686.96L585.90 686.96Z" fill="#1b9cb6"/>
<path d="M599.00 681.81L601.10 685.46L596.90 685.46Z" fill="#1b9cb6"/>
<path d="M593.50 686.31L595.60 689.96L591.40 689.96Z" fill="#1b9cb6"/>
<path d="M589.00 688.81L591.10 692.46L586.90 692.46Z" fill="#1b9cb6"/>
<path d="M598.00 688.81L600.10 692.46L595.90 692.46Z" fill="#1b9cb6"/>
<path d="M593.50 694.81L595.60 698.46L591.40 698.46Z" fill="#1b9cb6"/>
<path d="M561.8 605.5V601.6H594V666.3" fill="none" stroke="#333" stroke-width="1.3"/>
<text x="577.80" y="597.50" font-size="9" text-anchor="middle" fill="#111" stroke="#111" stroke-width="0.15">P = 0.9727</text>
<text x="561.80" y="575.00" font-size="12.4" text-anchor="middle" fill="#000" >anti-Pru p 3 IgE</text>
<text transform="translate(480.3 660.5) rotate(-90)" font-size="14.2" text-anchor="middle">A<tspan font-size="10.4" dy="3.3">450</tspan></text>
<text transform="translate(534.20 749.90) rotate(-45)" font-size="12.5" text-anchor="end">Healthy control</text>
<text transform="translate(565.70 749.90) rotate(-45)" font-size="12.5" text-anchor="end">Anaphylactic control</text>
<text transform="translate(597.70 749.90) rotate(-45)" font-size="12.5" text-anchor="end">cnsLTP1-mRNA</text>
</svg></body></html>
